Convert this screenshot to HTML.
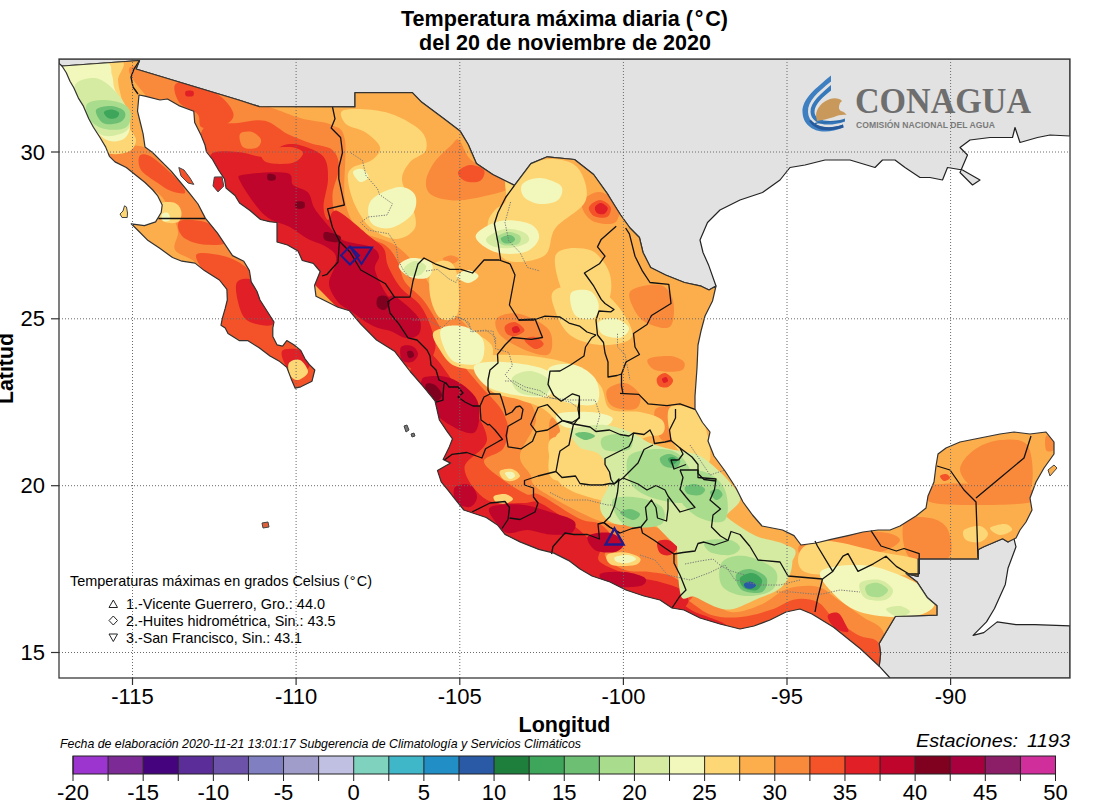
<!DOCTYPE html>
<html><head><meta charset="utf-8"><style>
html,body{margin:0;padding:0;background:#fff;width:1100px;height:800px;overflow:hidden;position:relative}
</style></head><body>
<svg width="1100" height="800" viewBox="0 0 1100 800" style="position:absolute;left:0;top:0">
<defs><clipPath id="plot"><rect x="59" y="59" width="1011" height="619"/></clipPath>
<clipPath id="mex"><path d="M62.0,66.0 L66.3,72.8 L70.0,81.2 L73.8,87.8 L78.4,98.1 L83.1,105.6 L88.8,118.8 L93.4,127.2 L100.0,137.5 L105.6,146.9 L109.4,156.3 L115.0,161.9 L126.3,167.5 L135.6,175.0 L145.0,182.5 L152.8,190.0 L157.5,195.6 L162.2,205.0 L161.2,212.5 L155.6,221.9 L144.4,225.6 L131.2,223.8 L138.8,231.2 L148.1,240.6 L159.4,248.1 L172.5,257.5 L181.9,261.2 L195.0,263.1 L204.4,270.6 L219.4,280.0 L226.9,289.4 L227.3,300.0 L225.2,308.4 L222.4,318.2 L221.0,325.2 L225.2,328.0 L228.0,333.6 L239.2,340.6 L247.6,340.6 L258.8,347.6 L270.0,356.0 L279.8,361.6 L286.8,367.2 L291.0,378.4 L295.2,388.2 L300.8,386.8 L312.0,381.2 L314.8,370.0 L309.2,364.4 L305.0,358.8 L300.8,350.4 L293.8,344.8 L286.8,340.6 L282.6,346.2 L277.0,344.8 L272.8,336.4 L272.8,328.0 L274.0,322.0 L267.0,311.0 L260.0,300.0 L256.9,291.2 L251.2,281.9 L249.4,270.6 L243.8,261.2 L232.5,255.6 L225.0,244.4 L217.5,233.1 L205.3,218.1 L198.0,204.0 L190.0,193.8 L180.6,182.5 L171.2,171.2 L161.9,161.9 L152.5,152.5 L145.0,146.9 L143.1,133.8 L140.3,122.5 L137.5,111.2 L139.0,95.0 L145.0,96.2 L160.0,100.0 L167.5,99.0 L178.8,105.6 L193.8,111.2 L194.7,122.5 L201.2,135.6 L205.0,145.0 L206.5,152.0 L212.5,159.5 L218.5,170.0 L224.5,179.0 L226.0,188.0 L235.0,195.5 L239.5,203.0 L250.0,210.5 L260.5,219.5 L269.5,221.7 L277.0,222.5 L277.0,242.0 L287.5,245.0 L298.0,251.0 L302.3,260.5 L313.3,263.3 L320.2,271.5 L314.6,285.3 L316.0,296.3 L327.0,301.8 L338.0,307.3 L349.5,310.8 L360.8,324.2 L376.5,340.0 L394.5,351.2 L410.2,371.5 L423.8,387.2 L435.0,400.8 L439.4,420.0 L446.9,431.2 L452.5,438.8 L448.8,448.1 L443.1,459.4 L450.6,463.1 L437.5,470.6 L441.2,481.9 L448.8,491.2 L456.2,500.6 L463.8,510.0 L475.0,513.8 L486.2,517.5 L497.5,525.0 L505.0,534.4 L520.0,541.9 L538.8,549.4 L553.8,553.1 L568.8,560.6 L580.0,569.0 L592.0,576.0 L610.0,582.0 L626.0,590.0 L644.0,596.0 L660.0,600.0 L672.0,608.0 L684.0,610.0 L700.0,618.0 L720.0,624.0 L740.0,629.0 L754.0,626.0 L770.0,620.0 L786.0,612.0 L800.0,609.0 L812.0,614.0 L833.6,627.3 L860.4,648.7 L879.2,666.2 L880.6,654.0 L879.2,643.4 L895.3,616.5 L936.9,615.2 L936.9,605.8 L927.5,597.8 L916.8,581.7 L906.0,573.6 L918.1,576.3 L918.1,558.9 L978.4,558.9 L978.4,549.5 L983.8,546.8 L1002.6,538.8 L1008.0,542.0 L1016.0,538.0 L1020.0,530.0 L1026.0,522.0 L1032.0,510.0 L1030.0,498.0 L1036.0,482.0 L1044.0,468.0 L1054.0,454.0 L1054.0,442.0 L1046.0,432.0 L1030.0,434.0 L1014.0,432.0 L1000.0,434.0 L980.0,438.0 L960.0,442.0 L946.0,448.0 L938.0,454.0 L936.0,466.0 L934.0,482.0 L928.0,496.0 L926.0,508.0 L916.0,516.0 L900.0,526.0 L890.0,530.0 L878.0,530.0 L863.0,532.0 L848.0,535.6 L831.0,539.4 L816.0,543.0 L801.0,545.0 L794.0,535.6 L782.5,530.0 L762.0,526.0 L752.5,515.0 L743.0,502.0 L736.0,488.0 L725.0,471.0 L714.0,456.0 L708.0,441.0 L710.0,432.0 L702.5,422.5 L695.0,409.0 L695.0,396.0 L697.0,368.0 L698.0,345.0 L701.0,331.0 L705.0,316.0 L712.5,301.0 L716.0,286.0 L709.0,290.0 L701.2,286.2 L684.4,282.5 L665.6,275.0 L650.6,267.5 L643.0,252.5 L639.4,237.5 L630.0,228.0 L620.6,215.0 L611.2,200.0 L607.3,193.6 L593.6,174.5 L574.5,159.5 L547.3,156.8 L530.9,163.6 L514.5,185.4 L492.7,174.5 L476.4,163.6 L468.2,144.5 L460.0,130.9 L443.6,118.6 L421.8,102.3 L412.3,92.7 L355.0,92.7 L355.0,106.9 L259.4,106.6 L238.8,100.0 L136.0,69.0 L139.5,60.5 Z"/></clipPath></defs>
<g clip-path="url(#plot)">
<path d="M59.0,59.0 L1070.0,59.0 L1070.0,136.0 L1050.0,135.0 L1037.5,137.5 L1020.0,142.5 L1015.0,127.5 L1012.5,137.5 L990.0,137.5 L970.0,140.0 L960.0,147.5 L967.5,155.0 L960.0,172.5 L972.5,185.0 L980.0,180.0 L962.5,170.0 L947.5,167.5 L942.5,180.0 L930.0,177.5 L920.0,177.5 L905.0,167.5 L895.0,160.0 L882.5,160.0 L875.0,167.5 L850.0,160.0 L825.0,160.0 L805.0,165.0 L790.0,167.5 L780.0,180.0 L762.5,192.5 L740.0,200.0 L720.0,210.0 L707.5,222.5 L700.0,240.0 L703.0,252.5 L708.8,265.6 L716.0,286.0 L709.0,290.0 L701.2,286.2 L684.4,282.5 L665.6,275.0 L650.6,267.5 L643.0,252.5 L639.4,237.5 L630.0,228.0 L620.6,215.0 L611.2,200.0 L607.3,193.6 L593.6,174.5 L574.5,159.5 L547.3,156.8 L530.9,163.6 L514.5,185.4 L492.7,174.5 L476.4,163.6 L468.2,144.5 L460.0,130.9 L443.6,118.6 L421.8,102.3 L412.3,92.7 L355.0,92.7 L355.0,106.9 L259.4,106.6 L238.8,100.0 L136.0,69.0 L139.5,60.5 L62.0,66.0 L59.0,63.5 Z" fill="#e2e2e2" stroke="#222" stroke-width="1.2" stroke-linejoin="round"/>
<path d="M890.0,678.0 L879.2,666.2 L880.6,654.0 L879.2,643.4 L895.3,616.5 L936.9,615.2 L936.9,605.8 L927.5,597.8 L916.8,581.7 L906.0,573.6 L918.1,576.3 L918.1,558.9 L978.4,558.9 L978.4,549.5 L983.8,546.8 L1002.6,538.8 L1008.0,542.0 L1013.3,536.1 L1016.0,546.8 L1008.0,568.3 L1005.3,584.4 L994.5,608.5 L986.5,621.9 L973.1,635.3 L983.8,632.6 L997.2,621.9 L1016.0,624.6 L1034.8,624.6 L1070.0,625.9 L1070.0,678.0 Z" fill="#e2e2e2" stroke="#222" stroke-width="1.2" stroke-linejoin="round"/>
<path d="M62.0,66.0 L66.3,72.8 L70.0,81.2 L73.8,87.8 L78.4,98.1 L83.1,105.6 L88.8,118.8 L93.4,127.2 L100.0,137.5 L105.6,146.9 L109.4,156.3 L115.0,161.9 L126.3,167.5 L135.6,175.0 L145.0,182.5 L152.8,190.0 L157.5,195.6 L162.2,205.0 L161.2,212.5 L155.6,221.9 L144.4,225.6 L131.2,223.8 L138.8,231.2 L148.1,240.6 L159.4,248.1 L172.5,257.5 L181.9,261.2 L195.0,263.1 L204.4,270.6 L219.4,280.0 L226.9,289.4 L227.3,300.0 L225.2,308.4 L222.4,318.2 L221.0,325.2 L225.2,328.0 L228.0,333.6 L239.2,340.6 L247.6,340.6 L258.8,347.6 L270.0,356.0 L279.8,361.6 L286.8,367.2 L291.0,378.4 L295.2,388.2 L300.8,386.8 L312.0,381.2 L314.8,370.0 L309.2,364.4 L305.0,358.8 L300.8,350.4 L293.8,344.8 L286.8,340.6 L282.6,346.2 L277.0,344.8 L272.8,336.4 L272.8,328.0 L274.0,322.0 L267.0,311.0 L260.0,300.0 L256.9,291.2 L251.2,281.9 L249.4,270.6 L243.8,261.2 L232.5,255.6 L225.0,244.4 L217.5,233.1 L205.3,218.1 L198.0,204.0 L190.0,193.8 L180.6,182.5 L171.2,171.2 L161.9,161.9 L152.5,152.5 L145.0,146.9 L143.1,133.8 L140.3,122.5 L137.5,111.2 L139.0,95.0 L145.0,96.2 L160.0,100.0 L167.5,99.0 L178.8,105.6 L193.8,111.2 L194.7,122.5 L201.2,135.6 L205.0,145.0 L206.5,152.0 L212.5,159.5 L218.5,170.0 L224.5,179.0 L226.0,188.0 L235.0,195.5 L239.5,203.0 L250.0,210.5 L260.5,219.5 L269.5,221.7 L277.0,222.5 L277.0,242.0 L287.5,245.0 L298.0,251.0 L302.3,260.5 L313.3,263.3 L320.2,271.5 L314.6,285.3 L316.0,296.3 L327.0,301.8 L338.0,307.3 L349.5,310.8 L360.8,324.2 L376.5,340.0 L394.5,351.2 L410.2,371.5 L423.8,387.2 L435.0,400.8 L439.4,420.0 L446.9,431.2 L452.5,438.8 L448.8,448.1 L443.1,459.4 L450.6,463.1 L437.5,470.6 L441.2,481.9 L448.8,491.2 L456.2,500.6 L463.8,510.0 L475.0,513.8 L486.2,517.5 L497.5,525.0 L505.0,534.4 L520.0,541.9 L538.8,549.4 L553.8,553.1 L568.8,560.6 L580.0,569.0 L592.0,576.0 L610.0,582.0 L626.0,590.0 L644.0,596.0 L660.0,600.0 L672.0,608.0 L684.0,610.0 L700.0,618.0 L720.0,624.0 L740.0,629.0 L754.0,626.0 L770.0,620.0 L786.0,612.0 L800.0,609.0 L812.0,614.0 L833.6,627.3 L860.4,648.7 L879.2,666.2 L880.6,654.0 L879.2,643.4 L895.3,616.5 L936.9,615.2 L936.9,605.8 L927.5,597.8 L916.8,581.7 L906.0,573.6 L918.1,576.3 L918.1,558.9 L978.4,558.9 L978.4,549.5 L983.8,546.8 L1002.6,538.8 L1008.0,542.0 L1016.0,538.0 L1020.0,530.0 L1026.0,522.0 L1032.0,510.0 L1030.0,498.0 L1036.0,482.0 L1044.0,468.0 L1054.0,454.0 L1054.0,442.0 L1046.0,432.0 L1030.0,434.0 L1014.0,432.0 L1000.0,434.0 L980.0,438.0 L960.0,442.0 L946.0,448.0 L938.0,454.0 L936.0,466.0 L934.0,482.0 L928.0,496.0 L926.0,508.0 L916.0,516.0 L900.0,526.0 L890.0,530.0 L878.0,530.0 L863.0,532.0 L848.0,535.6 L831.0,539.4 L816.0,543.0 L801.0,545.0 L794.0,535.6 L782.5,530.0 L762.0,526.0 L752.5,515.0 L743.0,502.0 L736.0,488.0 L725.0,471.0 L714.0,456.0 L708.0,441.0 L710.0,432.0 L702.5,422.5 L695.0,409.0 L695.0,396.0 L697.0,368.0 L698.0,345.0 L701.0,331.0 L705.0,316.0 L712.5,301.0 L716.0,286.0 L709.0,290.0 L701.2,286.2 L684.4,282.5 L665.6,275.0 L650.6,267.5 L643.0,252.5 L639.4,237.5 L630.0,228.0 L620.6,215.0 L611.2,200.0 L607.3,193.6 L593.6,174.5 L574.5,159.5 L547.3,156.8 L530.9,163.6 L514.5,185.4 L492.7,174.5 L476.4,163.6 L468.2,144.5 L460.0,130.9 L443.6,118.6 L421.8,102.3 L412.3,92.7 L355.0,92.7 L355.0,106.9 L259.4,106.6 L238.8,100.0 L136.0,69.0 L139.5,60.5 Z" fill="#fdae4c"/>
<g clip-path="url(#mex)">
<path d="M112.0,150.0C117.0,146.8 132.0,144.3 140.0,146.0C148.0,147.7 152.5,154.3 160.0,160.0C167.5,165.7 177.5,173.3 185.0,180.0C192.5,186.7 200.0,193.3 205.0,200.0C210.0,206.7 210.0,212.5 215.0,220.0C220.0,227.5 227.5,235.8 235.0,245.0C242.5,254.2 253.3,264.2 260.0,275.0C266.7,285.8 270.0,299.2 275.0,310.0C280.0,320.8 282.5,330.0 290.0,340.0C297.5,350.0 316.7,360.8 320.0,370.0C323.3,379.2 316.7,393.3 310.0,395.0C303.3,396.7 291.7,387.5 280.0,380.0C268.3,372.5 251.7,360.0 240.0,350.0C228.3,340.0 215.8,331.7 210.0,320.0C204.2,308.3 207.5,289.7 205.0,280.0C202.5,270.3 200.0,267.0 195.0,262.0C190.0,257.0 177.8,255.0 175.0,250.0C172.2,245.0 178.5,237.8 178.0,232.0C177.5,226.2 175.0,221.2 172.0,215.0C169.0,208.8 166.2,200.8 160.0,195.0C153.8,189.2 143.3,185.0 135.0,180.0C126.7,175.0 113.8,170.0 110.0,165.0C106.2,160.0 107.0,153.2 112.0,150.0Z" fill="#f98a3c"/>
<path d="M60.0,66.0C62.8,64.3 81.3,62.7 85.0,64.0C88.7,65.3 84.8,72.3 82.0,74.0C79.2,75.7 71.7,75.3 68.0,74.0C64.3,72.7 57.2,67.7 60.0,66.0Z" fill="#f98a3c"/>
<path d="M136.0,66.0C154.3,66.7 232.7,95.3 260.0,104.0C287.3,112.7 288.0,114.5 300.0,118.0C312.0,121.5 324.5,121.3 332.0,125.0C339.5,128.7 342.8,127.5 345.0,140.0C347.2,152.5 342.5,185.0 345.0,200.0C347.5,215.0 351.7,222.5 360.0,230.0C368.3,237.5 385.0,238.3 395.0,245.0C405.0,251.7 412.5,260.8 420.0,270.0C427.5,279.2 431.7,290.0 440.0,300.0C448.3,310.0 463.3,320.0 470.0,330.0C476.7,340.0 480.0,348.3 480.0,360.0C480.0,371.7 473.3,390.0 470.0,400.0C466.7,410.0 465.0,415.0 460.0,420.0C455.0,425.0 450.0,440.0 440.0,430.0C430.0,420.0 416.7,381.7 400.0,360.0C383.3,338.3 356.7,316.7 340.0,300.0C323.3,283.3 315.0,275.0 300.0,260.0C285.0,245.0 266.7,230.0 250.0,210.0C233.3,190.0 216.7,158.3 200.0,140.0C183.3,121.7 160.7,112.3 150.0,100.0C139.3,87.7 117.7,65.3 136.0,66.0Z" fill="#f98a3c"/>
<path d="M459.0,140.0C462.2,142.2 464.9,154.0 470.0,159.0C475.1,164.0 483.1,165.3 489.5,170.0C495.9,174.7 508.7,182.8 508.7,187.0C508.7,191.2 498.2,192.8 489.5,195.0C480.8,197.2 466.1,200.5 456.5,200.5C446.9,200.5 436.8,198.2 431.7,195.0C426.6,191.8 425.5,186.5 426.0,181.0C426.5,175.5 430.3,167.9 434.5,162.0C438.7,156.1 446.9,149.2 451.0,145.5C455.1,141.8 455.8,137.8 459.0,140.0Z" fill="#f98a3c"/>
<path d="M583.0,200.0C585.7,196.7 594.0,191.2 600.0,192.0C606.0,192.8 616.2,199.9 618.7,205.0C621.2,210.1 619.0,219.7 615.0,222.5C611.0,225.3 600.2,223.8 595.0,222.0C589.8,220.2 586.0,215.7 584.0,212.0C582.0,208.3 580.3,203.3 583.0,200.0Z" fill="#f98a3c"/>
<path d="M442.7,259.0C442.5,257.6 448.3,255.5 451.0,255.5C453.7,255.5 458.8,257.6 459.0,259.0C459.2,260.4 454.7,263.7 452.0,263.7C449.3,263.7 442.9,260.4 442.7,259.0Z" fill="#f98a3c"/>
<path d="M497.0,318.0C500.3,314.5 511.3,312.0 520.0,314.0C528.7,316.0 544.2,323.3 549.0,330.0C553.8,336.7 553.0,350.7 549.0,354.0C545.0,357.3 533.2,353.2 525.0,350.0C516.8,346.8 504.7,340.3 500.0,335.0C495.3,329.7 493.7,321.5 497.0,318.0Z" fill="#f98a3c"/>
<path d="M631.7,290.0C636.4,286.7 653.1,283.3 660.0,285.0C666.9,286.7 671.3,293.1 673.0,300.0C674.7,306.9 674.7,323.0 670.0,326.7C665.3,330.4 651.3,325.6 645.0,322.0C638.7,318.4 634.2,310.3 632.0,305.0C629.8,299.7 627.0,293.3 631.7,290.0Z" fill="#f98a3c"/>
<path d="M648.0,359.0C650.5,356.7 664.0,355.5 670.0,356.0C676.0,356.5 682.3,359.5 684.0,362.0C685.7,364.5 684.8,369.7 680.0,371.0C675.2,372.3 660.3,372.0 655.0,370.0C649.7,368.0 645.5,361.3 648.0,359.0Z" fill="#f98a3c"/>
<path d="M607.0,390.0C609.2,386.2 619.5,382.2 625.0,383.0C630.5,383.8 638.3,390.7 640.0,395.0C641.7,399.3 639.7,407.2 635.0,409.0C630.3,410.8 616.7,409.2 612.0,406.0C607.3,402.8 604.8,393.8 607.0,390.0Z" fill="#f98a3c"/>
<path d="M659.0,412.0C660.3,408.0 667.2,404.7 670.0,406.0C672.8,407.3 675.7,415.3 676.0,420.0C676.3,424.7 674.3,432.3 672.0,434.0C669.7,435.7 664.2,433.7 662.0,430.0C659.8,426.3 657.7,416.0 659.0,412.0Z" fill="#f98a3c"/>
<path d="M550.0,420.0C552.2,414.5 562.3,416.2 565.0,422.0C567.7,427.8 568.2,449.5 566.0,455.0C563.8,460.5 554.7,460.8 552.0,455.0C549.3,449.2 547.8,425.5 550.0,420.0Z" fill="#f98a3c"/>
<path d="M655.0,410.0C657.5,405.3 671.5,405.0 675.0,410.0C678.5,415.0 678.5,435.3 676.0,440.0C673.5,444.7 663.5,443.0 660.0,438.0C656.5,433.0 652.5,414.7 655.0,410.0Z" fill="#f98a3c"/>
<path d="M800.0,545.0C804.2,542.2 821.7,541.8 830.0,543.0C838.3,544.2 849.2,548.8 850.0,552.0C850.8,555.2 842.5,560.7 835.0,562.0C827.5,563.3 810.8,562.8 805.0,560.0C799.2,557.2 795.8,547.8 800.0,545.0Z" fill="#f98a3c"/>
<path d="M830.0,536.0C836.7,533.0 868.3,531.3 880.0,532.0C891.7,532.7 900.0,536.7 900.0,540.0C900.0,543.3 890.0,550.3 880.0,552.0C870.0,553.7 848.3,552.7 840.0,550.0C831.7,547.3 823.3,539.0 830.0,536.0Z" fill="#f98a3c"/>
<path d="M680.0,586.7C687.6,586.2 697.0,592.8 705.5,597.0C714.0,601.2 721.7,610.8 731.0,612.0C740.3,613.2 752.1,608.3 761.4,604.5C770.7,600.7 777.7,592.0 787.0,589.0C796.3,586.0 808.9,585.0 817.4,586.7C825.9,588.4 830.2,594.4 837.8,599.4C845.4,604.4 855.4,611.5 863.0,617.0C870.6,622.5 880.6,623.7 883.6,632.5C886.6,641.3 911.6,668.8 881.0,670.0C850.4,671.2 736.8,651.7 700.0,640.0C663.2,628.3 663.3,608.9 660.0,600.0C656.7,591.1 672.4,587.2 680.0,586.7Z" fill="#f98a3c"/>
<path d="M845.0,590.0C845.8,587.7 852.5,586.3 855.0,588.0C857.5,589.7 860.8,597.7 860.0,600.0C859.2,602.3 852.5,603.7 850.0,602.0C847.5,600.3 844.2,592.3 845.0,590.0Z" fill="#f98a3c"/>
<path d="M974.0,450.0C980.7,445.0 991.0,440.7 1000.0,440.0C1009.0,439.3 1023.0,437.7 1028.0,446.0C1033.0,454.3 1034.7,481.8 1030.0,490.0C1025.3,498.2 1009.0,495.0 1000.0,495.0C991.0,495.0 982.7,494.2 976.0,490.0C969.3,485.8 960.3,476.7 960.0,470.0C959.7,463.3 967.3,455.0 974.0,450.0Z" fill="#f98a3c"/>
<path d="M928.0,486.0C936.3,483.0 962.7,483.3 980.0,484.0C997.3,484.7 1023.3,487.0 1032.0,490.0C1040.7,493.0 1040.7,499.5 1032.0,502.0C1023.3,504.5 997.0,505.0 980.0,505.0C963.0,505.0 938.7,505.2 930.0,502.0C921.3,498.8 919.7,489.0 928.0,486.0Z" fill="#f98a3c"/>
<path d="M904.0,522.0C907.3,515.3 922.7,516.7 930.0,518.0C937.3,519.3 945.0,523.3 948.0,530.0C951.0,536.7 954.3,553.3 948.0,558.0C941.7,562.7 917.3,564.0 910.0,558.0C902.7,552.0 900.7,528.7 904.0,522.0Z" fill="#f98a3c"/>
<path d="M1046.0,436.0C1047.3,434.3 1052.7,437.7 1054.0,440.0C1055.3,442.3 1055.3,448.3 1054.0,450.0C1052.7,451.7 1047.3,452.3 1046.0,450.0C1044.7,447.7 1044.7,437.7 1046.0,436.0Z" fill="#f98a3c"/>
<path d="M420.0,316.0C429.3,300.5 442.9,346.5 455.7,357.0C468.5,367.5 486.3,373.5 497.0,379.0C507.7,384.5 513.5,383.3 520.0,390.0C526.5,396.7 536.0,408.2 536.0,419.0C536.0,429.8 521.0,445.8 520.0,455.0C519.0,464.2 526.7,468.2 530.0,474.0C533.3,479.8 528.3,482.2 540.0,490.0C551.7,497.8 583.3,515.4 600.0,521.0C616.7,526.6 629.0,521.8 640.0,523.6C651.0,525.4 658.2,527.8 666.0,531.7C673.8,535.6 681.3,542.3 687.0,547.0C692.7,551.7 696.2,551.2 700.0,560.0C703.8,568.8 726.7,586.7 710.0,600.0C693.3,613.3 643.3,646.7 600.0,640.0C556.7,633.3 483.3,591.7 450.0,560.0C416.7,528.3 405.0,490.7 400.0,450.0C395.0,409.3 410.7,331.5 420.0,316.0Z" fill="#f98a3c"/>
<path d="M139.5,156.0C141.0,153.7 145.3,153.7 150.0,156.0C154.7,158.3 162.6,165.6 167.5,170.0C172.4,174.4 176.8,178.7 179.7,182.5C182.6,186.3 186.4,191.6 185.0,193.0C183.6,194.4 175.7,192.8 171.0,191.0C166.3,189.2 162.0,186.0 157.0,182.5C152.0,179.0 143.9,174.4 141.0,170.0C138.1,165.6 138.0,158.3 139.5,156.0Z" fill="#f4532a"/>
<path d="M179.7,221.0C183.5,218.7 197.4,219.7 205.0,222.0C212.6,224.3 221.7,231.4 225.0,235.0C228.3,238.6 229.2,242.2 225.0,243.7C220.8,245.2 207.2,245.3 200.0,244.0C192.8,242.7 185.4,239.8 182.0,236.0C178.6,232.2 175.9,223.3 179.7,221.0Z" fill="#f4532a"/>
<path d="M197.0,254.0C201.2,251.2 220.3,254.5 230.0,258.0C239.7,261.5 247.5,268.0 255.0,275.0C262.5,282.0 270.8,290.0 275.0,300.0C279.2,310.0 275.8,327.5 280.0,335.0C284.2,342.5 293.7,339.5 300.0,345.0C306.3,350.5 316.0,360.2 318.0,368.0C320.0,375.8 316.7,388.0 312.0,392.0C307.3,396.0 296.2,396.5 290.0,392.0C283.8,387.5 281.7,372.8 275.0,365.0C268.3,357.2 258.3,350.8 250.0,345.0C241.7,339.2 230.8,337.5 225.0,330.0C219.2,322.5 218.3,309.2 215.0,300.0C211.7,290.8 208.0,282.7 205.0,275.0C202.0,267.3 192.8,256.8 197.0,254.0Z" fill="#f4532a"/>
<path d="M175.0,84.8C177.2,81.4 185.5,80.6 193.0,82.5C200.5,84.4 213.2,90.8 220.0,96.0C226.8,101.2 232.8,109.2 233.5,114.0C234.2,118.8 229.8,122.8 224.5,125.0C219.2,127.2 206.5,129.3 202.0,127.5C197.5,125.7 201.2,118.1 197.5,114.0C193.8,109.9 183.2,107.6 179.5,102.8C175.8,97.9 172.8,88.1 175.0,84.8Z" fill="#f4532a"/>
<path d="M204.0,127.5C209.5,121.3 227.8,124.1 238.0,123.0C248.2,121.9 256.8,118.9 265.0,120.8C273.2,122.6 280.0,130.3 287.5,134.0C295.0,137.7 302.5,140.3 310.0,143.0C317.5,145.7 327.7,145.8 332.5,150.0C337.3,154.2 339.0,160.5 339.0,168.0C339.0,175.5 332.7,186.3 332.5,195.0C332.3,203.7 333.4,213.3 338.0,220.0C342.6,226.7 352.2,230.8 360.0,235.0C367.8,239.2 378.7,240.5 385.0,245.0C391.3,249.5 394.7,255.8 398.0,262.0C401.3,268.2 400.7,275.5 405.0,282.0C409.3,288.5 417.8,292.8 424.0,301.0C430.2,309.2 437.7,322.8 442.0,331.0C446.3,339.2 452.0,341.8 450.0,350.0C448.0,358.2 438.3,378.3 430.0,380.0C421.7,381.7 415.0,373.3 400.0,360.0C385.0,346.7 356.7,316.7 340.0,300.0C323.3,283.3 316.7,274.2 300.0,260.0C283.3,245.8 255.8,231.7 240.0,215.0C224.2,198.3 211.0,174.6 205.0,160.0C199.0,145.4 198.5,133.7 204.0,127.5Z" fill="#f4532a"/>
<path d="M458.0,172.0C458.8,169.3 465.7,165.3 470.0,165.0C474.3,164.7 482.3,167.3 484.0,170.0C485.7,172.7 483.2,179.2 480.0,181.0C476.8,182.8 468.7,182.5 465.0,181.0C461.3,179.5 457.2,174.7 458.0,172.0Z" fill="#f4532a"/>
<path d="M589.0,207.0C590.0,204.3 596.4,200.0 600.0,200.0C603.6,200.0 609.3,204.2 610.5,207.0C611.7,209.8 609.8,215.5 607.0,217.0C604.2,218.5 597.0,217.7 594.0,216.0C591.0,214.3 588.0,209.7 589.0,207.0Z" fill="#f4532a"/>
<path d="M505.0,326.0C506.3,324.0 511.8,321.3 515.0,322.0C518.2,322.7 524.3,327.7 524.5,330.0C524.7,332.3 518.9,335.3 516.0,336.0C513.1,336.7 508.8,335.7 507.0,334.0C505.2,332.3 503.7,328.0 505.0,326.0Z" fill="#f4532a"/>
<path d="M524.5,340.0C524.5,338.0 531.8,336.3 535.0,337.0C538.2,337.7 543.7,342.0 543.7,344.0C543.7,346.0 538.2,349.7 535.0,349.0C531.8,348.3 524.5,342.0 524.5,340.0Z" fill="#f4532a"/>
<path d="M657.0,378.0C658.0,375.8 662.3,372.7 665.0,373.0C667.7,373.3 672.5,377.7 673.0,380.0C673.5,382.3 670.3,386.0 668.0,387.0C665.7,388.0 660.8,387.5 659.0,386.0C657.2,384.5 656.0,380.2 657.0,378.0Z" fill="#f4532a"/>
<path d="M680.0,597.0C688.4,597.8 700.3,611.4 710.5,614.7C720.7,618.0 730.8,617.9 741.0,617.0C751.2,616.1 762.7,612.5 771.6,609.6C780.5,606.7 786.9,600.7 794.5,599.4C802.1,598.1 811.0,599.1 817.4,602.0C823.8,604.9 825.9,611.5 832.7,617.0C839.5,622.5 850.4,630.7 858.0,635.0C865.6,639.3 875.1,636.9 878.5,642.7C881.9,648.5 908.2,669.6 878.5,670.0C848.8,670.4 736.4,655.0 700.0,645.0C663.6,635.0 663.3,618.0 660.0,610.0C656.7,602.0 671.6,596.2 680.0,597.0Z" fill="#f4532a"/>
<path d="M940.0,476.0C940.3,474.8 944.3,473.7 946.0,474.0C947.7,474.3 950.3,476.8 950.0,478.0C949.7,479.2 945.7,481.3 944.0,481.0C942.3,480.7 939.7,477.2 940.0,476.0Z" fill="#f4532a"/>
<path d="M420.0,335.0C434.5,325.5 472.5,378.5 487.0,393.0C501.5,407.5 504.2,412.8 507.0,422.0C509.8,431.2 507.4,441.5 503.6,448.0C499.8,454.5 484.6,456.1 484.0,461.0C483.4,465.9 493.0,472.0 500.0,477.5C507.0,483.0 519.3,491.1 526.0,494.0C532.7,496.9 531.2,490.9 540.0,495.0C548.8,499.1 569.0,513.7 579.0,518.5C589.0,523.3 594.3,520.4 600.0,524.0C605.7,527.6 612.2,534.7 613.0,540.0C613.8,545.3 603.0,551.0 605.0,556.0C607.0,561.0 617.5,567.3 625.0,570.0C632.5,572.7 641.7,570.7 650.0,572.0C658.3,573.3 668.3,573.3 675.0,578.0C681.7,582.7 702.5,589.7 690.0,600.0C677.5,610.3 640.0,646.7 600.0,640.0C560.0,633.3 483.3,591.7 450.0,560.0C416.7,528.3 405.0,487.5 400.0,450.0C395.0,412.5 405.5,344.5 420.0,335.0Z" fill="#f4532a"/>
<path d="M236.6,283.0C238.8,278.2 248.3,278.0 253.0,280.0C257.7,282.0 261.8,289.7 265.0,295.0C268.2,300.3 270.8,307.0 272.0,312.0C273.2,317.0 275.7,323.3 272.0,325.0C268.3,326.7 255.3,324.7 250.0,322.0C244.7,319.3 242.2,315.5 240.0,309.0C237.8,302.5 234.4,287.8 236.6,283.0Z" fill="#e01f26"/>
<path d="M282.0,351.0C284.0,348.0 295.3,348.2 300.0,350.0C304.7,351.8 309.2,358.7 310.0,362.0C310.8,365.3 308.7,369.0 305.0,370.0C301.3,371.0 291.8,371.2 288.0,368.0C284.2,364.8 280.0,354.0 282.0,351.0Z" fill="#e01f26"/>
<path d="M211.0,154.5C214.8,149.8 229.0,151.6 238.0,152.0C247.0,152.4 257.5,157.8 265.0,156.8C272.5,155.7 277.0,147.4 283.0,145.5C289.0,143.6 294.2,143.6 301.0,145.5C307.8,147.4 319.0,151.2 323.5,156.8C328.0,162.3 328.0,170.8 328.0,179.0C328.0,187.2 323.5,199.2 323.5,206.0C323.5,212.8 325.7,219.2 328.0,220.0C330.3,220.8 330.3,208.1 337.5,211.0C344.7,213.9 363.2,231.2 371.0,237.5C378.8,243.8 381.2,244.2 384.0,249.0C386.8,253.8 385.2,259.5 388.0,266.0C390.8,272.5 395.7,281.5 401.0,288.0C406.3,294.5 415.0,298.4 420.0,305.0C425.0,311.6 428.5,320.0 431.0,327.5C433.5,335.0 436.8,342.9 435.0,350.0C433.2,357.1 427.5,369.2 420.0,370.0C412.5,370.8 403.3,365.0 390.0,355.0C376.7,345.0 355.0,324.2 340.0,310.0C325.0,295.8 315.0,284.2 300.0,270.0C285.0,255.8 264.2,240.0 250.0,225.0C235.8,210.0 221.5,191.8 215.0,180.0C208.5,168.2 207.2,159.2 211.0,154.5Z" fill="#e01f26"/>
<path d="M186.0,91.0C187.2,90.2 191.8,90.2 193.0,91.0C194.2,91.8 194.2,95.2 193.0,96.0C191.8,96.8 187.2,96.8 186.0,96.0C184.8,95.2 184.8,91.8 186.0,91.0Z" fill="#e01f26"/>
<path d="M595.0,207.0C595.7,205.3 598.9,202.8 601.0,203.0C603.1,203.2 607.2,206.2 607.7,208.0C608.2,209.8 605.8,213.2 604.0,214.0C602.2,214.8 598.5,214.2 597.0,213.0C595.5,211.8 594.3,208.7 595.0,207.0Z" fill="#e01f26"/>
<path d="M512.0,328.0C512.5,326.8 515.7,325.5 517.0,326.0C518.3,326.5 520.5,329.8 520.0,331.0C519.5,332.2 515.3,333.5 514.0,333.0C512.7,332.5 511.5,329.2 512.0,328.0Z" fill="#e01f26"/>
<path d="M662.0,379.0C662.3,378.0 665.0,376.7 666.0,377.0C667.0,377.3 668.3,380.0 668.0,381.0C667.7,382.0 665.0,383.3 664.0,383.0C663.0,382.7 661.7,380.0 662.0,379.0Z" fill="#e01f26"/>
<path d="M657.5,542.0C658.8,539.8 664.7,539.2 668.0,540.0C671.3,540.8 677.2,544.5 677.5,547.0C677.8,549.5 672.9,554.0 670.0,555.0C667.1,556.0 662.1,555.2 660.0,553.0C657.9,550.8 656.2,544.2 657.5,542.0Z" fill="#e01f26"/>
<path d="M680.0,604.5C682.5,602.3 687.3,608.6 695.0,612.0C702.7,615.4 723.5,621.7 726.0,625.0C728.5,628.3 717.7,632.0 710.0,632.0C702.3,632.0 685.0,629.6 680.0,625.0C675.0,620.4 677.5,606.7 680.0,604.5Z" fill="#e01f26"/>
<path d="M827.6,616.0C828.1,613.5 835.0,611.7 838.0,613.0C841.0,614.3 843.7,620.8 845.4,624.0C847.1,627.2 849.7,631.3 848.0,632.0C846.3,632.7 838.4,630.7 835.0,628.0C831.6,625.3 827.1,618.5 827.6,616.0Z" fill="#e01f26"/>
<path d="M420.0,351.5C430.2,342.0 449.8,378.5 461.0,393.0C472.2,407.5 486.4,426.0 487.0,438.5C487.6,451.0 464.5,457.8 464.5,468.0C464.5,478.2 477.2,494.2 487.0,500.0C496.8,505.8 514.2,502.5 523.0,503.0C531.8,503.5 531.5,499.2 540.0,503.0C548.5,506.8 566.2,520.3 574.0,526.0C581.8,531.7 582.7,533.3 587.0,537.0C591.3,540.7 597.8,543.8 600.0,548.0C602.2,552.2 594.7,557.3 600.0,562.0C605.3,566.7 622.0,572.7 632.0,576.0C642.0,579.3 651.3,579.3 660.0,582.0C668.7,584.7 680.7,587.3 684.0,592.0C687.3,596.7 694.0,602.0 680.0,610.0C666.0,618.0 638.3,648.3 600.0,640.0C561.7,631.7 483.3,591.7 450.0,560.0C416.7,528.3 405.0,484.8 400.0,450.0C395.0,415.2 409.8,361.0 420.0,351.5Z" fill="#e01f26"/>
<path d="M240.5,182.0C237.2,175.2 237.2,176.0 245.0,174.5C252.8,173.0 279.0,171.2 287.0,173.0C295.0,174.8 289.5,181.8 293.0,185.0C296.5,188.2 304.5,188.8 308.0,192.5C311.5,196.2 311.5,203.0 314.0,207.5C316.5,212.0 319.5,215.2 323.0,219.5C326.5,223.8 331.3,229.4 335.0,233.0C338.7,236.6 339.0,238.7 345.0,241.0C351.0,243.3 365.3,244.5 371.0,247.0C376.7,249.5 378.3,252.2 379.0,256.0C379.7,259.8 373.7,263.5 375.0,270.0C376.3,276.5 383.8,290.7 387.0,295.0C390.2,299.3 390.5,294.1 394.0,296.0C397.5,297.9 403.7,302.4 408.0,306.5C412.3,310.6 418.2,315.8 420.0,320.5C421.8,325.2 420.8,331.6 418.5,334.5C416.2,337.4 410.7,338.6 406.0,338.0C401.3,337.4 395.2,332.7 390.5,331.0C385.8,329.3 382.1,329.5 378.0,328.0C373.9,326.5 370.3,324.7 366.0,322.0C361.7,319.3 356.7,315.3 352.0,312.0C347.3,308.7 341.8,306.7 338.0,302.0C334.2,297.3 329.5,290.0 329.0,284.0C328.5,278.0 334.0,271.0 335.0,266.0C336.0,261.0 337.0,257.5 335.0,254.0C333.0,250.5 327.5,247.5 323.0,245.0C318.5,242.5 313.5,242.0 308.0,239.0C302.5,236.0 297.2,231.0 290.0,227.0C282.8,223.0 272.8,222.5 264.5,215.0C256.2,207.5 243.8,188.8 240.5,182.0Z" fill="#bf052b"/>
<path d="M401.0,347.0C402.7,344.7 409.2,344.8 412.0,346.0C414.8,347.2 418.0,351.3 418.0,354.0C418.0,356.7 414.7,361.0 412.0,362.0C409.3,363.0 403.8,362.5 402.0,360.0C400.2,357.5 399.3,349.3 401.0,347.0Z" fill="#bf052b"/>
<path d="M422.0,379.0C423.3,375.3 435.0,376.2 440.0,378.0C445.0,379.8 450.3,386.0 452.0,390.0C453.7,394.0 453.3,400.3 450.0,402.0C446.7,403.7 436.7,403.8 432.0,400.0C427.3,396.2 420.7,382.7 422.0,379.0Z" fill="#bf052b"/>
<path d="M422.0,380.0C425.7,375.5 440.8,374.7 450.0,378.0C459.2,381.3 472.8,391.0 477.0,400.0C481.2,409.0 479.5,427.8 475.0,432.0C470.5,436.2 457.8,429.5 450.0,425.0C442.2,420.5 432.7,412.5 428.0,405.0C423.3,397.5 418.3,384.5 422.0,380.0Z" fill="#bf052b"/>
<path d="M455.0,487.0C457.3,484.2 466.3,483.3 470.0,485.0C473.7,486.7 477.0,493.3 477.0,497.0C477.0,500.7 473.5,506.2 470.0,507.0C466.5,507.8 458.5,505.3 456.0,502.0C453.5,498.7 452.7,489.8 455.0,487.0Z" fill="#bf052b"/>
<path d="M490.0,507.5C494.0,504.5 510.0,503.8 520.0,504.5C530.0,505.2 541.0,509.2 550.0,512.0C559.0,514.8 570.5,517.5 574.0,521.0C577.5,524.5 575.0,530.8 571.0,533.0C567.0,535.2 557.2,535.0 550.0,534.5C542.8,534.0 534.5,530.2 527.5,530.0C520.5,529.8 513.2,534.2 508.0,533.0C502.8,531.8 499.0,526.8 496.0,522.5C493.0,518.2 486.0,510.5 490.0,507.5Z" fill="#bf052b"/>
<path d="M588.0,536.0C590.5,533.2 604.0,531.8 610.0,533.0C616.0,534.2 623.2,539.8 624.0,543.0C624.8,546.2 619.8,550.8 615.0,552.0C610.2,553.2 599.5,552.7 595.0,550.0C590.5,547.3 585.5,538.8 588.0,536.0Z" fill="#bf052b"/>
<path d="M600.0,574.0C602.5,571.7 617.5,571.3 625.0,572.0C632.5,572.7 642.5,575.7 645.0,578.0C647.5,580.3 645.8,584.7 640.0,586.0C634.2,587.3 616.7,588.0 610.0,586.0C603.3,584.0 597.5,576.3 600.0,574.0Z" fill="#bf052b"/>
<path d="M378.0,297.0C379.5,295.3 384.0,295.0 386.0,296.0C388.0,297.0 390.3,300.7 390.0,303.0C389.7,305.3 386.2,309.5 384.0,310.0C381.8,310.5 378.0,308.2 377.0,306.0C376.0,303.8 376.5,298.7 378.0,297.0Z" fill="#80001f"/>
<path d="M407.0,352.0C407.5,350.8 410.8,350.3 412.0,351.0C413.2,351.7 414.5,354.8 414.0,356.0C413.5,357.2 410.2,358.7 409.0,358.0C407.8,357.3 406.5,353.2 407.0,352.0Z" fill="#80001f"/>
<path d="M268.0,174.0C269.2,173.2 273.8,174.0 275.0,175.0C276.2,176.0 276.2,179.2 275.0,180.0C273.8,180.8 269.2,181.0 268.0,180.0C266.8,179.0 266.8,174.8 268.0,174.0Z" fill="#80001f"/>
<path d="M296.0,202.0C297.3,201.0 302.7,201.0 304.0,202.0C305.3,203.0 305.3,207.0 304.0,208.0C302.7,209.0 297.3,209.0 296.0,208.0C294.7,207.0 294.7,203.0 296.0,202.0Z" fill="#80001f"/>
<path d="M325.0,232.0C327.5,231.3 337.8,234.3 340.0,236.0C342.2,237.7 340.5,241.3 338.0,242.0C335.5,242.7 327.2,241.7 325.0,240.0C322.8,238.3 322.5,232.7 325.0,232.0Z" fill="#80001f"/>
<path d="M426.0,384.0C427.3,382.7 432.3,383.2 435.0,385.0C437.7,386.8 441.8,392.3 442.0,395.0C442.2,397.7 438.5,401.3 436.0,401.0C433.5,400.7 428.7,395.8 427.0,393.0C425.3,390.2 424.7,385.3 426.0,384.0Z" fill="#80001f"/>
<path d="M58.0,62.0C66.3,57.0 110.0,57.0 120.0,60.0C130.0,63.0 117.7,73.3 118.0,80.0C118.3,86.7 120.3,92.5 122.0,100.0C123.7,107.5 125.7,118.3 128.0,125.0C130.3,131.7 136.0,135.5 136.0,140.0C136.0,144.5 133.2,150.0 128.0,152.0C122.8,154.0 111.3,155.7 105.0,152.0C98.7,148.3 95.8,140.3 90.0,130.0C84.2,119.7 75.3,101.3 70.0,90.0C64.7,78.7 49.7,67.0 58.0,62.0Z" fill="#fdd776"/>
<path d="M289.0,363.0C290.7,360.5 296.8,358.5 300.0,360.0C303.2,361.5 308.3,368.7 308.0,372.0C307.7,375.3 301.0,379.5 298.0,380.0C295.0,380.5 291.5,377.8 290.0,375.0C288.5,372.2 287.3,365.5 289.0,363.0Z" fill="#fdd776"/>
<path d="M160.5,203.5C163.3,201.7 171.5,201.6 175.0,203.0C178.5,204.4 180.9,208.8 181.4,212.0C181.9,215.2 180.7,220.3 178.0,222.0C175.3,223.7 168.3,223.3 165.0,222.0C161.7,220.7 158.8,217.1 158.0,214.0C157.2,210.9 157.7,205.3 160.5,203.5Z" fill="#fdd776"/>
<path d="M344.0,110.0C350.5,108.0 372.3,108.7 385.0,112.0C397.7,115.3 413.2,123.7 420.0,130.0C426.8,136.3 427.7,144.7 426.0,150.0C424.3,155.3 414.0,157.0 410.0,162.0C406.0,167.0 401.7,172.8 402.0,180.0C402.3,187.2 409.8,197.0 412.0,205.0C414.2,213.0 417.7,222.3 415.0,228.0C412.3,233.7 403.3,239.0 396.0,239.0C388.7,239.0 377.8,233.7 371.0,228.0C364.2,222.3 358.8,213.0 355.0,205.0C351.2,197.0 348.5,186.2 348.0,180.0C347.5,173.8 348.0,171.3 352.0,168.0C356.0,164.7 367.3,163.5 372.0,160.0C376.7,156.5 381.2,151.7 380.0,147.0C378.8,142.3 370.7,135.8 365.0,132.0C359.3,128.2 349.5,127.7 346.0,124.0C342.5,120.3 337.5,112.0 344.0,110.0Z" fill="#fdd776"/>
<path d="M522.5,167.5C529.8,164.2 540.8,159.0 550.0,159.0C559.2,159.0 571.5,160.6 577.5,167.5C583.5,174.4 589.4,190.4 585.7,200.5C582.0,210.6 562.4,218.8 555.5,228.0C548.6,237.2 552.3,250.0 544.5,255.5C536.7,261.0 517.8,263.6 508.7,261.0C499.6,258.4 493.4,246.5 490.0,240.0C486.6,233.5 487.2,227.0 488.0,222.0C488.8,217.0 492.0,213.6 495.0,210.0C498.0,206.4 504.2,205.8 506.0,200.5C507.8,195.2 503.2,184.0 506.0,178.5C508.8,173.0 515.2,170.8 522.5,167.5Z" fill="#fdd776"/>
<path d="M432.0,266.0C435.3,260.5 445.7,259.7 450.0,262.0C454.3,264.3 456.8,271.2 458.0,280.0C459.2,288.8 460.0,308.7 457.0,315.0C454.0,321.3 444.5,321.3 440.0,318.0C435.5,314.7 431.3,303.7 430.0,295.0C428.7,286.3 428.7,271.5 432.0,266.0Z" fill="#fdd776"/>
<path d="M555.5,255.5C558.8,246.3 580.9,246.8 590.0,250.0C599.1,253.2 607.5,265.8 610.0,275.0C612.5,284.2 611.7,300.0 605.0,305.0C598.3,310.0 578.2,313.2 570.0,305.0C561.8,296.8 552.2,264.7 555.5,255.5Z" fill="#fdd776"/>
<path d="M433.7,332.0C437.0,328.3 450.4,325.8 460.0,328.0C469.6,330.2 487.3,338.3 491.5,345.0C495.7,351.7 491.1,364.5 485.0,368.0C478.9,371.5 462.5,369.0 455.0,366.0C447.5,363.0 443.6,355.7 440.0,350.0C436.4,344.3 430.4,335.7 433.7,332.0Z" fill="#fdd776"/>
<path d="M475.0,360.0C480.0,354.2 503.5,354.2 520.0,355.0C536.5,355.8 560.7,360.0 574.0,365.0C587.3,370.0 594.0,377.7 600.0,385.0C606.0,392.3 603.3,404.5 610.0,409.0C616.7,413.5 631.3,410.2 640.0,412.0C648.7,413.8 658.3,416.3 662.0,420.0C665.7,423.7 665.7,430.7 662.0,434.0C658.3,437.3 648.7,434.0 640.0,440.0C631.3,446.0 624.2,463.3 610.0,470.0C595.8,476.7 565.0,483.3 555.0,480.0C545.0,476.7 549.2,458.3 550.0,450.0C550.8,441.7 560.8,436.7 560.0,430.0C559.2,423.3 551.7,415.0 545.0,410.0C538.3,405.0 529.2,403.3 520.0,400.0C510.8,396.7 497.5,396.7 490.0,390.0C482.5,383.3 470.0,365.8 475.0,360.0Z" fill="#fdd776"/>
<path d="M554.7,290.0C560.5,285.8 580.4,283.3 590.0,285.0C599.6,286.7 605.8,293.3 612.5,300.0C619.2,306.7 627.2,318.3 630.0,325.0C632.8,331.7 634.0,336.7 629.0,340.0C624.0,343.3 609.8,345.8 600.0,345.0C590.2,344.2 577.5,340.8 570.0,335.0C562.5,329.2 557.5,317.5 555.0,310.0C552.5,302.5 548.9,294.2 554.7,290.0Z" fill="#fdd776"/>
<path d="M557.5,434.0C564.6,426.3 586.2,431.3 600.0,434.0C613.8,436.7 633.3,439.0 640.0,450.0C646.7,461.0 646.7,491.7 640.0,500.0C633.3,508.3 613.8,503.3 600.0,500.0C586.2,496.7 564.6,491.0 557.5,480.0C550.4,469.0 550.4,441.7 557.5,434.0Z" fill="#fdd776"/>
<path d="M550.0,440.0C554.2,434.7 569.6,436.3 580.0,438.0C590.4,439.7 607.5,442.6 612.5,450.0C617.5,457.4 615.4,477.2 610.0,482.5C604.6,487.8 589.2,484.1 580.0,482.0C570.8,479.9 560.0,477.0 555.0,470.0C550.0,463.0 545.8,445.3 550.0,440.0Z" fill="#fdd776"/>
<path d="M670.0,407.5C674.7,403.3 693.3,406.2 700.0,415.0C706.7,423.8 711.7,452.5 710.0,460.0C708.3,467.5 696.3,463.3 690.0,460.0C683.7,456.7 675.3,448.8 672.0,440.0C668.7,431.2 665.3,411.7 670.0,407.5Z" fill="#fdd776"/>
<path d="M805.0,546.0C810.3,542.8 817.5,540.0 830.0,541.0C842.5,542.0 865.2,548.8 880.0,552.0C894.8,555.2 912.5,556.3 919.0,560.0C925.5,563.7 927.2,571.5 919.0,574.0C910.8,576.5 884.8,574.8 870.0,575.0C855.2,575.2 840.8,575.5 830.0,575.0C819.2,574.5 810.3,574.5 805.0,572.0C799.7,569.5 798.0,564.3 798.0,560.0C798.0,555.7 799.7,549.2 805.0,546.0Z" fill="#fdd776"/>
<path d="M964.0,530.0C966.3,527.7 976.0,525.3 980.0,526.0C984.0,526.7 988.0,531.3 988.0,534.0C988.0,536.7 983.7,541.0 980.0,542.0C976.3,543.0 968.7,542.0 966.0,540.0C963.3,538.0 961.7,532.3 964.0,530.0Z" fill="#fdd776"/>
<path d="M990.0,528.0C990.8,526.2 1001.3,523.7 1005.0,524.0C1008.7,524.3 1012.8,528.2 1012.0,530.0C1011.2,531.8 1003.7,535.3 1000.0,535.0C996.3,534.7 989.2,529.8 990.0,528.0Z" fill="#fdd776"/>
<path d="M607.0,555.0C609.2,552.9 619.5,552.0 625.0,552.5C630.5,553.0 638.3,555.9 640.0,558.0C641.7,560.1 639.7,563.8 635.0,565.0C630.3,566.2 616.7,566.7 612.0,565.0C607.3,563.3 604.8,557.1 607.0,555.0Z" fill="#fdd776"/>
<path d="M500.0,471.0C501.5,469.3 508.7,468.2 512.0,469.0C515.3,469.8 520.0,474.0 520.0,476.0C520.0,478.0 514.8,480.5 512.0,481.0C509.2,481.5 505.0,480.7 503.0,479.0C501.0,477.3 498.5,472.7 500.0,471.0Z" fill="#fdd776"/>
<path d="M494.0,496.0C495.5,494.7 501.8,493.5 505.0,494.0C508.2,494.5 513.0,497.4 513.0,499.0C513.0,500.6 507.8,503.1 505.0,503.6C502.2,504.1 497.8,503.3 496.0,502.0C494.2,500.7 492.5,497.3 494.0,496.0Z" fill="#fdd776"/>
<path d="M60.0,66.0C65.0,59.7 96.3,60.5 105.0,62.0C113.7,63.5 110.3,70.3 112.0,75.0C113.7,79.7 112.8,85.0 115.0,90.0C117.2,95.0 122.5,99.2 125.0,105.0C127.5,110.8 130.0,119.5 130.0,125.0C130.0,130.5 128.3,135.3 125.0,138.0C121.7,140.7 115.0,142.3 110.0,141.0C105.0,139.7 100.8,136.8 95.0,130.0C89.2,123.2 80.8,110.7 75.0,100.0C69.2,89.3 55.0,72.3 60.0,66.0Z" fill="#f2f8bb"/>
<path d="M162.0,214.0C162.8,212.7 166.7,212.0 168.0,213.0C169.3,214.0 170.8,218.7 170.0,220.0C169.2,221.3 164.3,222.0 163.0,221.0C161.7,220.0 161.2,215.3 162.0,214.0Z" fill="#f2f8bb"/>
<path d="M371.0,200.5C375.6,194.6 391.4,187.9 398.7,187.0C406.0,186.1 412.7,190.5 415.0,195.0C417.3,199.5 416.6,208.5 412.5,214.0C408.4,219.5 397.4,226.6 390.5,228.0C383.6,229.4 374.2,227.1 371.0,222.5C367.8,217.9 366.4,206.4 371.0,200.5Z" fill="#f2f8bb"/>
<path d="M353.0,172.0C353.3,169.8 359.4,168.2 362.0,169.0C364.6,169.8 368.8,174.8 368.5,177.0C368.2,179.2 362.6,182.8 360.0,182.0C357.4,181.2 352.7,174.2 353.0,172.0Z" fill="#f2f8bb"/>
<path d="M522.5,184.0C525.2,180.8 533.6,177.7 540.0,178.0C546.4,178.3 558.0,182.3 561.0,186.0C564.0,189.7 561.5,197.0 558.0,200.0C554.5,203.0 545.7,204.5 540.0,204.0C534.3,203.5 526.9,200.3 524.0,197.0C521.1,193.7 519.8,187.2 522.5,184.0Z" fill="#f2f8bb"/>
<path d="M475.7,236.0C476.5,230.8 490.9,223.0 500.0,221.0C509.1,219.0 523.5,221.2 530.0,224.0C536.5,226.8 539.8,233.3 539.0,238.0C538.2,242.7 532.3,249.7 525.0,252.0C517.7,254.3 503.2,254.7 495.0,252.0C486.8,249.3 474.9,241.2 475.7,236.0Z" fill="#f2f8bb"/>
<path d="M398.7,266.0C399.0,262.8 406.5,258.5 412.0,258.0C417.5,257.5 429.0,259.8 431.7,263.0C434.4,266.2 431.6,275.2 428.0,277.5C424.4,279.8 414.9,278.9 410.0,277.0C405.1,275.1 398.4,269.2 398.7,266.0Z" fill="#f2f8bb"/>
<path d="M456.5,276.0C456.5,273.8 464.3,270.0 468.0,270.0C471.7,270.0 478.5,273.8 478.5,276.0C478.5,278.2 471.7,283.0 468.0,283.0C464.3,283.0 456.5,278.2 456.5,276.0Z" fill="#f2f8bb"/>
<path d="M442.0,328.0C445.7,324.9 458.2,324.7 465.0,326.7C471.8,328.7 480.5,334.0 483.0,340.0C485.5,346.0 484.7,358.8 480.0,362.5C475.3,366.2 461.2,364.9 455.0,362.0C448.8,359.1 445.2,350.7 443.0,345.0C440.8,339.3 438.3,331.1 442.0,328.0Z" fill="#f2f8bb"/>
<path d="M475.0,365.0C479.2,361.2 497.7,361.3 510.0,362.5C522.3,363.7 542.5,366.5 549.0,372.0C555.5,377.5 554.7,391.7 549.0,395.5C543.3,399.3 525.7,396.8 515.0,395.0C504.3,393.2 491.7,390.0 485.0,385.0C478.3,380.0 470.8,368.8 475.0,365.0Z" fill="#f2f8bb"/>
<path d="M549.0,368.0C553.2,363.8 567.2,363.0 575.0,365.0C582.8,367.0 592.5,373.6 596.0,380.0C599.5,386.4 601.2,400.0 596.0,403.7C590.8,407.4 572.7,404.3 565.0,402.0C557.3,399.7 552.7,395.7 550.0,390.0C547.3,384.3 544.8,372.2 549.0,368.0Z" fill="#f2f8bb"/>
<path d="M571.0,293.0C573.5,289.0 585.4,289.0 590.0,291.0C594.6,293.0 598.2,300.4 598.7,305.0C599.2,309.6 597.0,316.8 593.0,318.5C589.0,320.2 578.7,319.2 575.0,315.0C571.3,310.8 568.5,297.0 571.0,293.0Z" fill="#f2f8bb"/>
<path d="M598.7,322.0C600.9,319.4 610.0,317.5 615.0,318.5C620.0,319.5 628.2,324.8 629.0,328.0C629.8,331.2 624.5,336.7 620.0,337.7C615.5,338.7 605.5,336.6 602.0,334.0C598.5,331.4 596.5,324.6 598.7,322.0Z" fill="#f2f8bb"/>
<path d="M557.5,414.0C561.7,411.5 580.8,411.3 590.0,412.0C599.2,412.7 610.8,415.2 612.5,418.0C614.2,420.8 607.9,427.0 600.0,428.5C592.1,430.0 572.1,429.4 565.0,427.0C557.9,424.6 553.3,416.5 557.5,414.0Z" fill="#f2f8bb"/>
<path d="M822.5,570.0C829.2,566.0 853.8,563.5 870.0,566.0C886.2,568.5 909.2,578.5 920.0,585.0C930.8,591.5 936.2,599.7 934.5,605.0C932.8,610.3 922.4,615.8 910.0,617.0C897.6,618.2 873.3,616.5 860.0,612.0C846.7,607.5 836.2,597.0 830.0,590.0C823.8,583.0 815.8,574.0 822.5,570.0Z" fill="#f2f8bb"/>
<path d="M615.0,557.0C616.8,555.8 624.5,554.7 628.0,555.0C631.5,555.3 636.0,557.7 636.0,559.0C636.0,560.3 631.2,562.5 628.0,563.0C624.8,563.5 619.2,563.0 617.0,562.0C614.8,561.0 613.2,558.2 615.0,557.0Z" fill="#f2f8bb"/>
<path d="M505.0,473.0C505.3,471.8 510.3,471.5 512.0,472.0C513.7,472.5 515.3,474.8 515.0,476.0C514.7,477.2 511.7,479.5 510.0,479.0C508.3,478.5 504.7,474.2 505.0,473.0Z" fill="#f2f8bb"/>
<path d="M75.0,85.0C77.2,79.7 88.8,77.5 95.0,78.0C101.2,78.5 107.0,83.5 112.0,88.0C117.0,92.5 122.0,98.8 125.0,105.0C128.0,111.2 130.8,120.2 130.0,125.0C129.2,129.8 125.0,132.5 120.0,134.0C115.0,135.5 106.3,138.0 100.0,134.0C93.7,130.0 86.2,118.2 82.0,110.0C77.8,101.8 72.8,90.3 75.0,85.0Z" fill="#d4eba1"/>
<path d="M486.7,238.0C488.9,235.2 498.6,229.8 505.0,229.0C511.4,228.2 521.2,230.8 525.0,233.0C528.8,235.2 530.5,239.5 528.0,242.0C525.5,244.5 516.0,247.3 510.0,248.0C504.0,248.7 495.9,247.7 492.0,246.0C488.1,244.3 484.5,240.8 486.7,238.0Z" fill="#d4eba1"/>
<path d="M404.0,268.0C405.2,265.7 411.3,261.3 415.0,261.0C418.7,260.7 425.2,263.7 426.0,266.0C426.8,268.3 423.0,273.5 420.0,275.0C417.0,276.5 410.7,276.2 408.0,275.0C405.3,273.8 402.8,270.3 404.0,268.0Z" fill="#d4eba1"/>
<path d="M512.0,378.0C513.7,374.3 523.8,370.7 530.0,371.0C536.2,371.3 546.5,376.0 549.0,380.0C551.5,384.0 549.8,392.8 545.0,395.0C540.2,397.2 525.5,395.8 520.0,393.0C514.5,390.2 510.3,381.7 512.0,378.0Z" fill="#d4eba1"/>
<path d="M575.0,428.0C580.8,426.8 595.5,424.2 605.0,425.0C614.5,425.8 624.5,430.0 632.0,433.0C639.5,436.0 643.7,440.3 650.0,443.0C656.3,445.7 662.5,447.2 670.0,449.0C677.5,450.8 688.3,451.7 695.0,454.0C701.7,456.3 704.2,458.2 710.0,463.0C715.8,467.8 725.0,476.3 730.0,482.5C735.0,488.7 740.8,494.2 740.0,500.0C739.2,505.8 726.7,512.5 725.0,517.5C723.3,522.5 723.3,526.2 730.0,530.0C736.7,533.8 754.2,536.7 765.0,540.0C775.8,543.3 791.7,545.0 795.0,550.0C798.3,555.0 788.3,565.8 785.0,570.0C781.7,574.2 780.8,570.8 775.0,575.0C769.2,579.2 761.7,592.5 750.0,595.0C738.3,597.5 715.0,595.8 705.0,590.0C695.0,584.2 695.8,568.3 690.0,560.0C684.2,551.7 677.5,547.1 670.0,540.0C662.5,532.9 652.5,520.0 645.0,517.5C637.5,515.0 631.2,524.6 625.0,525.0C618.8,525.4 611.7,523.3 607.5,520.0C603.3,516.7 599.6,511.7 600.0,505.0C600.4,498.3 610.0,488.3 610.0,480.0C610.0,471.7 605.0,460.4 600.0,455.0C595.0,449.6 585.0,451.2 580.0,447.5C575.0,443.8 570.8,435.8 570.0,432.5C569.2,429.2 569.2,429.2 575.0,428.0Z" fill="#d4eba1"/>
<path d="M680.0,515.5C685.1,501.0 702.0,504.2 710.5,505.0C719.0,505.8 723.4,515.3 731.0,520.5C738.6,525.7 746.7,531.8 756.0,536.0C765.3,540.2 781.0,541.0 787.0,546.0C793.0,551.0 792.8,559.2 792.0,566.0C791.2,572.8 788.0,581.1 782.0,586.7C776.0,592.3 765.3,595.6 756.0,599.4C746.7,603.2 736.2,610.0 726.0,609.6C715.8,609.2 702.7,599.9 695.0,597.0C687.3,594.1 682.5,605.6 680.0,592.0C677.5,578.4 674.9,530.0 680.0,515.5Z" fill="#d4eba1"/>
<path d="M860.0,583.0C862.5,580.0 874.5,578.8 880.0,580.0C885.5,581.2 892.2,586.7 893.0,590.0C893.8,593.3 889.7,598.7 885.0,600.0C880.3,601.3 869.2,600.8 865.0,598.0C860.8,595.2 857.5,586.0 860.0,583.0Z" fill="#d4eba1"/>
<path d="M886.0,609.0C886.3,607.2 896.0,605.5 900.0,606.0C904.0,606.5 910.3,610.2 910.0,612.0C909.7,613.8 902.0,617.5 898.0,617.0C894.0,616.5 885.7,610.8 886.0,609.0Z" fill="#d4eba1"/>
<path d="M87.0,104.0C89.5,100.7 98.7,99.8 105.0,100.0C111.3,100.2 120.7,102.3 125.0,105.0C129.3,107.7 131.0,112.2 131.0,116.0C131.0,119.8 129.3,125.8 125.0,128.0C120.7,130.2 110.8,130.3 105.0,129.0C99.2,127.7 93.0,124.2 90.0,120.0C87.0,115.8 84.5,107.3 87.0,104.0Z" fill="#a9dc8d"/>
<path d="M496.0,238.0C496.8,235.8 504.0,232.3 508.0,232.0C512.0,231.7 518.3,234.0 520.0,236.0C521.7,238.0 520.8,242.5 518.0,244.0C515.2,245.5 506.7,246.0 503.0,245.0C499.3,244.0 495.2,240.2 496.0,238.0Z" fill="#a9dc8d"/>
<path d="M602.0,438.0C604.5,435.3 615.0,433.7 620.0,434.0C625.0,434.3 630.7,437.3 632.0,440.0C633.3,442.7 632.5,448.3 628.0,450.0C623.5,451.7 609.3,452.0 605.0,450.0C600.7,448.0 599.5,440.7 602.0,438.0Z" fill="#a9dc8d"/>
<path d="M630.0,455.0C636.3,449.2 660.0,447.5 670.0,450.0C680.0,452.5 686.7,461.7 690.0,470.0C693.3,478.3 695.0,495.0 690.0,500.0C685.0,505.0 669.7,502.5 660.0,500.0C650.3,497.5 637.0,492.5 632.0,485.0C627.0,477.5 623.7,460.8 630.0,455.0Z" fill="#a9dc8d"/>
<path d="M675.0,475.0C679.2,470.3 696.7,469.5 705.0,472.0C713.3,474.5 721.7,482.0 725.0,490.0C728.3,498.0 729.2,515.3 725.0,520.0C720.8,524.7 707.5,521.3 700.0,518.0C692.5,514.7 684.2,507.2 680.0,500.0C675.8,492.8 670.8,479.7 675.0,475.0Z" fill="#a9dc8d"/>
<path d="M612.5,500.0C615.0,495.5 631.7,496.7 640.0,498.0C648.3,499.3 659.2,503.5 662.5,508.0C665.8,512.5 666.2,522.2 660.0,525.0C653.8,527.8 632.9,529.2 625.0,525.0C617.1,520.8 610.0,504.5 612.5,500.0Z" fill="#a9dc8d"/>
<path d="M705.0,541.0C708.3,539.0 724.2,538.8 730.0,540.0C735.8,541.2 740.0,545.5 740.0,548.0C740.0,550.5 735.0,554.3 730.0,555.0C725.0,555.7 714.2,554.3 710.0,552.0C705.8,549.7 701.7,543.0 705.0,541.0Z" fill="#a9dc8d"/>
<path d="M722.0,562.0C725.8,557.0 736.2,554.7 745.0,556.0C753.8,557.3 770.5,564.3 775.0,570.0C779.5,575.7 777.0,585.7 772.0,590.0C767.0,594.3 753.3,596.7 745.0,596.0C736.7,595.3 725.8,591.7 722.0,586.0C718.2,580.3 718.2,567.0 722.0,562.0Z" fill="#a9dc8d"/>
<path d="M866.0,586.0C867.7,584.0 874.3,582.3 878.0,583.0C881.7,583.7 887.7,587.7 888.0,590.0C888.3,592.3 883.3,596.2 880.0,597.0C876.7,597.8 870.3,596.8 868.0,595.0C865.7,593.2 864.3,588.0 866.0,586.0Z" fill="#a9dc8d"/>
<path d="M96.0,110.0C97.2,107.2 105.5,106.0 110.0,106.0C114.5,106.0 120.5,108.2 123.0,110.0C125.5,111.8 125.8,114.8 125.0,117.0C124.2,119.2 121.7,122.0 118.0,123.0C114.3,124.0 106.7,125.2 103.0,123.0C99.3,120.8 94.8,112.8 96.0,110.0Z" fill="#6dbf73"/>
<path d="M501.0,238.0C502.0,236.7 507.7,234.8 510.0,235.0C512.3,235.2 514.8,237.7 515.0,239.0C515.2,240.3 512.8,242.3 511.0,243.0C509.2,243.7 505.7,243.8 504.0,243.0C502.3,242.2 500.0,239.3 501.0,238.0Z" fill="#6dbf73"/>
<path d="M660.0,458.0C661.0,456.0 666.7,453.7 670.0,454.0C673.3,454.3 679.0,457.8 680.0,460.0C681.0,462.2 678.7,466.5 676.0,467.5C673.3,468.5 666.7,467.6 664.0,466.0C661.3,464.4 659.0,460.0 660.0,458.0Z" fill="#6dbf73"/>
<path d="M685.0,487.0C686.2,485.3 691.7,483.7 695.0,484.0C698.3,484.3 704.2,487.2 705.0,489.0C705.8,490.8 702.8,494.2 700.0,495.0C697.2,495.8 690.5,495.3 688.0,494.0C685.5,492.7 683.8,488.7 685.0,487.0Z" fill="#6dbf73"/>
<path d="M710.0,492.0C710.3,490.2 715.9,488.5 718.0,489.0C720.1,489.5 722.8,493.2 722.5,495.0C722.2,496.8 718.1,500.5 716.0,500.0C713.9,499.5 709.7,493.8 710.0,492.0Z" fill="#6dbf73"/>
<path d="M620.0,513.0C619.5,511.2 626.7,508.8 630.0,509.0C633.3,509.2 639.5,512.2 640.0,514.0C640.5,515.8 636.3,520.2 633.0,520.0C629.7,519.8 620.5,514.8 620.0,513.0Z" fill="#6dbf73"/>
<path d="M575.0,434.0C575.0,432.7 581.7,431.7 585.0,432.0C588.3,432.3 595.0,434.7 595.0,436.0C595.0,437.3 588.3,440.3 585.0,440.0C581.7,439.7 575.0,435.3 575.0,434.0Z" fill="#6dbf73"/>
<path d="M736.0,575.0C737.3,571.5 744.9,568.5 750.0,569.0C755.1,569.5 764.5,574.2 766.5,578.0C768.5,581.8 766.1,590.0 762.0,592.0C757.9,594.0 746.3,592.8 742.0,590.0C737.7,587.2 734.7,578.5 736.0,575.0Z" fill="#6dbf73"/>
<path d="M104.0,112.0C104.7,110.6 109.5,109.4 112.0,109.6C114.5,109.8 118.3,111.6 119.0,113.0C119.7,114.4 117.8,117.2 116.0,118.0C114.2,118.8 110.0,119.0 108.0,118.0C106.0,117.0 103.3,113.4 104.0,112.0Z" fill="#3ea65a"/>
<path d="M668.0,459.0C668.2,457.7 671.5,456.7 673.0,457.0C674.5,457.3 677.2,459.7 677.0,461.0C676.8,462.3 673.5,465.3 672.0,465.0C670.5,464.7 667.8,460.3 668.0,459.0Z" fill="#3ea65a"/>
<path d="M740.0,578.0C741.3,575.5 748.3,572.7 752.0,573.0C755.7,573.3 761.2,577.2 762.0,580.0C762.8,582.8 760.0,588.7 757.0,590.0C754.0,591.3 746.8,590.0 744.0,588.0C741.2,586.0 738.7,580.5 740.0,578.0Z" fill="#3ea65a"/>
<path d="M744.0,584.0C744.7,582.9 748.0,581.4 750.0,581.6C752.0,581.8 755.7,583.9 756.0,585.0C756.3,586.1 753.7,588.0 752.0,588.5C750.3,589.0 747.3,588.8 746.0,588.0C744.7,587.2 743.3,585.1 744.0,584.0Z" fill="#2a5aa6"/>
<path d="M240.0,134.0C241.5,131.5 248.5,131.0 252.0,132.0C255.5,133.0 260.3,137.3 261.0,140.0C261.7,142.7 259.0,146.8 256.0,148.0C253.0,149.2 245.7,149.3 243.0,147.0C240.3,144.7 238.5,136.5 240.0,134.0Z" fill="#f98a3c"/>
<path d="M263.0,150.0C267.0,147.5 283.3,146.5 290.0,147.0C296.7,147.5 302.7,150.3 303.0,153.0C303.3,155.7 298.2,161.5 292.0,163.0C285.8,164.5 270.8,164.2 266.0,162.0C261.2,159.8 259.0,152.5 263.0,150.0Z" fill="#f4532a"/>
</g>
<g clip-path="url(#mex)">
<path d="M351.0,153.0 L362.5,160.6 L366.0,175.6 L377.5,188.8 L379.4,194.4 L392.5,203.8 L387.0,215.0 L368.0,217.0 L360.6,222.5 L368.0,230.0 L388.8,233.8 L396.0,245.0 L398.0,260.0 L403.8,271.0 L411.0,279.0" fill="none" stroke="#7a7a7a" stroke-width="1" stroke-dasharray="1.3,1.3"/>
<path d="M510.6,202.0 L505.0,222.5 L508.8,241.0 L520.0,252.5 L527.5,267.5 L540.0,271.0" fill="none" stroke="#7a7a7a" stroke-width="1" stroke-dasharray="1.3,1.3"/>
<path d="M426.0,271.0 L437.5,269.4 L448.8,278.8 L456.0,282.5 L461.0,271.0" fill="none" stroke="#7a7a7a" stroke-width="1" stroke-dasharray="1.3,1.3"/>
<path d="M412.5,320.0 L427.5,320.0 L442.5,327.5 L453.8,316.0 L465.0,320.0 L472.5,331.0 L493.0,331.0 L495.0,342.5" fill="none" stroke="#7a7a7a" stroke-width="1" stroke-dasharray="1.3,1.3"/>
<path d="M458.0,317.0 L469.0,322.5 L471.0,332.0 L486.0,330.0 L495.6,337.5 L495.6,348.8 L508.8,352.5 L512.5,365.6 L505.0,375.0 L512.5,382.5 L523.8,390.0 L535.0,393.8 L546.2,397.5 L570.0,400.0 L595.0,400.0 L600.0,415.0 L595.0,432.5" fill="none" stroke="#7a7a7a" stroke-width="1" stroke-dasharray="1.3,1.3"/>
<path d="M617.5,333.8 L617.5,347.0 L625.0,354.4 L630.0,380.0" fill="none" stroke="#7a7a7a" stroke-width="1" stroke-dasharray="1.3,1.3"/>
<path d="M550.0,492.5 L565.0,500.0 L587.5,500.0 L607.5,505.0 L612.5,505.0 L625.0,515.0" fill="none" stroke="#7a7a7a" stroke-width="1" stroke-dasharray="1.3,1.3"/>
<path d="M640.0,555.0 L655.0,560.0 L667.5,575.0 L690.0,580.0 L710.0,572.5 L725.0,565.0 L735.0,580.0 L760.0,585.0 L780.0,585.0 L800.0,580.0" fill="none" stroke="#7a7a7a" stroke-width="1" stroke-dasharray="1.3,1.3"/>
<path d="M690.0,445.0 L700.0,460.0 L710.0,475.0 L725.0,470.0" fill="none" stroke="#7a7a7a" stroke-width="1" stroke-dasharray="1.3,1.3"/>
<path d="M685.0,564.0 L700.0,561.0 L713.0,559.0 L721.0,566.0 L731.0,571.0 L745.0,575.0" fill="none" stroke="#7a7a7a" stroke-width="1" stroke-dasharray="1.3,1.3"/>
<path d="M776.7,592.0 L792.0,592.0 L812.0,594.0 L822.5,594.0 L840.0,590.0 L860.0,592.0" fill="none" stroke="#7a7a7a" stroke-width="1" stroke-dasharray="1.3,1.3"/>
<path d="M505.0,381.0 L513.8,381.0 L525.0,387.0 L540.0,390.6 L551.0,398.0 L570.0,402.0 L577.5,407.5" fill="none" stroke="#7a7a7a" stroke-width="1" stroke-dasharray="1.3,1.3"/>
</g>
<path d="M158.4,218.5 L205.3,218.5" fill="none" stroke="#111" stroke-width="1.3" stroke-linejoin="round"/>
<path d="M139.5,60.5 L134.0,69.0 L131.0,77.0 L133.0,87.0 L138.0,94.0" fill="none" stroke="#111" stroke-width="1.3" stroke-linejoin="round"/>
<path d="M332.5,107.0 L335.0,118.8 L331.2,128.0 L340.6,137.5 L342.5,152.5 L338.8,167.5 L338.8,178.8 L344.4,205.0 L327.5,208.8 L332.5,227.5 L339.4,241.3" fill="none" stroke="#111" stroke-width="1.3" stroke-linejoin="round"/>
<path d="M339.4,241.3 L338.0,262.0 L327.0,274.3 L322.0,276.0" fill="none" stroke="#111" stroke-width="1.3" stroke-linejoin="round"/>
<path d="M339.4,241.3 L350.0,252.0 L360.8,270.0 L385.5,283.8 L394.5,297.2 L387.8,301.8 L390.0,313.0 L399.0,324.2 L408.0,337.8 L417.0,340.0 L427.0,350.0 L430.0,356.0 L431.0,365.0 L436.0,370.0 L439.0,380.0 L446.0,383.0 L444.0,384.0 L443.0,395.0 L443.0,400.0 L436.0,402.0" fill="none" stroke="#111" stroke-width="1.3" stroke-linejoin="round"/>
<path d="M394.5,297.2 L410.0,297.0 L413.0,281.0 L418.0,264.0 L424.0,258.0 L435.0,263.8 L450.0,269.4 L461.0,269.4 L472.5,273.0 L484.0,260.0 L499.0,260.0 L510.0,263.8" fill="none" stroke="#111" stroke-width="1.3" stroke-linejoin="round"/>
<path d="M514.5,185.4 L505.6,197.5 L498.0,212.5 L494.4,223.8 L498.0,242.5 L500.6,260.0" fill="none" stroke="#111" stroke-width="1.3" stroke-linejoin="round"/>
<path d="M510.0,263.8 L515.0,275.0 L509.4,305.0 L518.8,320.0 L533.8,320.0 L545.0,316.2 L560.0,317.0 L569.0,323.0 L579.5,326.0 L587.0,332.0 L596.0,335.0" fill="none" stroke="#111" stroke-width="1.3" stroke-linejoin="round"/>
<path d="M616.2,226.2 L601.2,239.4 L597.5,246.9 L605.0,256.2 L599.4,263.8 L584.4,273.0 L593.8,286.2 L601.2,299.4 L605.0,303.5 L614.0,309.5 L611.0,311.8 L599.0,311.0 L596.0,320.0 L597.5,335.0" fill="none" stroke="#111" stroke-width="1.3" stroke-linejoin="round"/>
<path d="M625.6,228.0 L629.4,233.8 L635.0,256.2 L642.5,271.2 L650.0,282.5 L668.8,284.4 L669.5,290.0" fill="none" stroke="#111" stroke-width="1.3" stroke-linejoin="round"/>
<path d="M597.5,335.0 L603.5,342.5 L605.0,353.0 L608.0,362.0 L608.0,377.0 L617.0,375.5 L621.5,374.0 L621.5,386.0 L623.0,393.5" fill="none" stroke="#111" stroke-width="1.3" stroke-linejoin="round"/>
<path d="M621.5,374.0 L626.0,362.0 L639.5,354.5 L635.0,347.0 L633.5,333.5 L647.0,324.5 L651.5,315.5 L671.0,303.5 L669.5,290.0" fill="none" stroke="#111" stroke-width="1.3" stroke-linejoin="round"/>
<path d="M518.8,320.0 L535.0,318.8 L542.5,337.5 L531.2,339.4 L512.5,337.5 L505.0,345.0 L497.5,354.4 L498.0,363.0 L490.0,370.0 L488.0,380.0 L488.0,390.0 L490.0,394.0" fill="none" stroke="#111" stroke-width="1.3" stroke-linejoin="round"/>
<path d="M446.0,383.0 L449.0,387.0 L458.0,387.0 L463.0,393.0 L458.0,397.0 L465.0,402.0 L473.0,406.0 L480.0,406.0 L484.0,397.0 L490.0,394.0 L500.0,394.0 L502.0,400.0 L505.0,410.0 L506.0,415.0 L512.0,412.0 L516.0,407.0 L520.0,406.0" fill="none" stroke="#111" stroke-width="1.3" stroke-linejoin="round"/>
<path d="M480.0,406.0 L481.0,420.0 L488.0,425.0 L489.4,424.4 L495.0,430.0 L502.5,439.4 L498.8,441.2 L485.6,448.8 L481.9,458.0 L466.9,452.5 L451.9,454.4 L444.4,460.0" fill="none" stroke="#111" stroke-width="1.3" stroke-linejoin="round"/>
<path d="M520.0,406.0 L523.0,409.4 L521.2,418.8 L508.1,426.2 L506.2,435.6 L508.1,446.9 L521.2,448.8 L532.5,441.2 L536.2,431.9 L530.6,424.4 L538.1,407.5 L547.5,404.7 L562.5,420.6 L547.5,430.0 L536.2,431.9" fill="none" stroke="#111" stroke-width="1.3" stroke-linejoin="round"/>
<path d="M596.0,335.0 L591.5,338.0 L585.5,347.0 L584.0,356.0 L570.5,365.0 L560.0,371.0 L550.0,371.2 L548.0,384.4 L553.8,395.6 L561.2,401.2 L572.5,393.8 L579.4,396.2 L579.4,416.9 L573.8,424.4 L562.5,420.6" fill="none" stroke="#111" stroke-width="1.3" stroke-linejoin="round"/>
<path d="M822.5,579.0 L817.4,599.4 L815.0,612.0" fill="none" stroke="#111" stroke-width="1.3" stroke-linejoin="round"/>
<path d="M822.5,579.0 L832.7,571.4 L817.4,546.0 L815.0,541.0" fill="none" stroke="#111" stroke-width="1.3" stroke-linejoin="round"/>
<path d="M832.7,571.4 L843.0,556.2 L848.0,553.6 L858.0,571.4 L873.4,563.8 L886.0,556.2 L896.3,566.4 L909.0,574.0 L919.2,574.0" fill="none" stroke="#111" stroke-width="1.3" stroke-linejoin="round"/>
<path d="M871.0,530.7 L881.0,546.0 L896.3,551.0 L904.0,548.5 L919.2,553.6 L919.2,574.0" fill="none" stroke="#111" stroke-width="1.3" stroke-linejoin="round"/>
<path d="M937.0,466.0 L950.0,470.0 L964.0,490.0 L976.0,502.0 L978.0,558.0" fill="none" stroke="#111" stroke-width="1.3" stroke-linejoin="round"/>
<path d="M976.0,498.0 L1000.0,478.0 L1024.0,458.0 L1031.0,436.0" fill="none" stroke="#111" stroke-width="1.3" stroke-linejoin="round"/>
<path d="M562.5,420.6 L572.0,422.5 L579.5,418.0 L578.0,409.0 L579.5,400.0" fill="none" stroke="#111" stroke-width="1.3" stroke-linejoin="round"/>
<path d="M573.5,424.0 L570.5,437.5 L569.0,445.0 L560.0,451.0 L558.8,456.2 L556.0,471.5" fill="none" stroke="#111" stroke-width="1.3" stroke-linejoin="round"/>
<path d="M573.5,424.0 L590.0,427.0 L596.0,431.5 L609.5,430.0 L620.0,434.5 L629.0,436.0 L633.5,433.0 L644.0,434.5 L650.0,430.0 L653.0,436.0 L654.5,443.5 L665.0,442.0 L671.0,440.5 L680.0,448.0 L683.0,454.0 L678.5,460.0" fill="none" stroke="#111" stroke-width="1.3" stroke-linejoin="round"/>
<path d="M633.5,433.0 L632.0,440.5 L629.0,446.5 L620.0,451.0 L611.0,455.5 L605.0,458.5 L605.0,464.5 L609.5,472.0 L611.0,479.5 L614.0,484.0 L623.0,478.0 L630.5,470.5 L638.0,463.0 L644.0,449.5 L653.0,445.0" fill="none" stroke="#111" stroke-width="1.3" stroke-linejoin="round"/>
<path d="M623.0,478.0 L638.0,484.0 L647.0,490.0 L656.0,485.5 L665.0,490.0 L668.0,496.0 L680.0,512.0 L695.0,507.5 L686.0,497.0 L680.0,489.5 L683.0,477.5 L680.0,470.0" fill="none" stroke="#111" stroke-width="1.3" stroke-linejoin="round"/>
<path d="M603.5,522.5 L609.5,527.0 L620.0,533.0 L632.0,528.5 L641.0,527.0 L647.0,519.5 L645.5,507.5 L651.5,500.0 L656.0,507.5 L657.5,518.0 L666.5,521.0 L668.0,509.0 L668.0,498.5" fill="none" stroke="#111" stroke-width="1.3" stroke-linejoin="round"/>
<path d="M641.0,527.0 L642.5,533.0 L654.5,540.5 L665.0,548.0 L674.0,554.0 L683.0,552.5 L695.0,551.0 L698.0,543.5 L704.0,542.0 L714.5,545.0 L728.0,540.5 L731.0,531.5 L740.0,534.5 L750.0,546.5" fill="none" stroke="#111" stroke-width="1.3" stroke-linejoin="round"/>
<path d="M674.0,554.0 L674.0,563.0 L680.0,575.0 L686.0,590.0 L680.0,596.0 L672.0,608.0" fill="none" stroke="#111" stroke-width="1.3" stroke-linejoin="round"/>
<path d="M680.0,470.0 L698.0,470.0 L698.0,477.5 L716.0,479.0 L714.5,489.5 L710.0,500.0 L720.5,509.0 L713.0,515.0 L711.5,527.0 L720.5,536.0 L728.0,540.5" fill="none" stroke="#111" stroke-width="1.3" stroke-linejoin="round"/>
<path d="M620.0,393.4 L638.8,394.4 L648.0,403.8 L667.0,405.6 L680.0,403.8 L695.0,409.4" fill="none" stroke="#111" stroke-width="1.3" stroke-linejoin="round"/>
<path d="M675.5,409.0 L675.5,418.0 L669.5,430.0 L671.0,440.5" fill="none" stroke="#111" stroke-width="1.3" stroke-linejoin="round"/>
<path d="M680.0,448.0 L692.0,457.0 L698.0,464.5 L698.0,473.5 L704.0,479.5 L716.0,481.0" fill="none" stroke="#111" stroke-width="1.3" stroke-linejoin="round"/>
<path d="M686.0,464.5 L674.0,469.0 L671.0,460.0 L678.5,460.0" fill="none" stroke="#111" stroke-width="1.3" stroke-linejoin="round"/>
<path d="M750.0,546.5 L758.0,560.0 L780.0,562.0 L788.0,576.0 L822.5,579.0" fill="none" stroke="#111" stroke-width="1.3" stroke-linejoin="round"/>
<path d="M472.0,512.0 L490.0,503.0 L505.0,501.5 L509.5,507.5 L508.0,519.5 L502.0,528.5" fill="none" stroke="#111" stroke-width="1.3" stroke-linejoin="round"/>
<path d="M509.5,518.0 L520.0,519.5 L535.0,512.0 L538.0,503.0 L533.5,497.0 L533.5,488.0 L524.5,485.0 L524.5,480.5 L538.0,476.0 L556.0,471.5" fill="none" stroke="#111" stroke-width="1.3" stroke-linejoin="round"/>
<path d="M556.0,471.5 L562.0,477.5 L575.5,476.0 L580.0,483.5 L590.5,485.0 L602.5,485.0 L610.0,483.5 L614.0,484.0" fill="none" stroke="#111" stroke-width="1.3" stroke-linejoin="round"/>
<path d="M551.5,554.0 L553.0,546.5 L565.0,533.0 L574.0,534.5 L587.5,534.5 L599.5,539.0 L598.0,524.0 L604.0,522.5 L610.0,516.5 L614.5,506.0 L617.5,492.5 L619.0,479.0 L614.0,484.0" fill="none" stroke="#111" stroke-width="1.3" stroke-linejoin="round"/>
<path d="M604.0,522.5 L609.5,527.0 L620.0,533.0" fill="none" stroke="#111" stroke-width="1.3" stroke-linejoin="round"/>
<path d="M62.0,66.0 L66.3,72.8 L70.0,81.2 L73.8,87.8 L78.4,98.1 L83.1,105.6 L88.8,118.8 L93.4,127.2 L100.0,137.5 L105.6,146.9 L109.4,156.3 L115.0,161.9 L126.3,167.5 L135.6,175.0 L145.0,182.5 L152.8,190.0 L157.5,195.6 L162.2,205.0 L161.2,212.5 L155.6,221.9 L144.4,225.6 L131.2,223.8 L138.8,231.2 L148.1,240.6 L159.4,248.1 L172.5,257.5 L181.9,261.2 L195.0,263.1 L204.4,270.6 L219.4,280.0 L226.9,289.4 L227.3,300.0 L225.2,308.4 L222.4,318.2 L221.0,325.2 L225.2,328.0 L228.0,333.6 L239.2,340.6 L247.6,340.6 L258.8,347.6 L270.0,356.0 L279.8,361.6 L286.8,367.2 L291.0,378.4 L295.2,388.2 L300.8,386.8 L312.0,381.2 L314.8,370.0 L309.2,364.4 L305.0,358.8 L300.8,350.4 L293.8,344.8 L286.8,340.6 L282.6,346.2 L277.0,344.8 L272.8,336.4 L272.8,328.0 L274.0,322.0 L267.0,311.0 L260.0,300.0 L256.9,291.2 L251.2,281.9 L249.4,270.6 L243.8,261.2 L232.5,255.6 L225.0,244.4 L217.5,233.1 L205.3,218.1 L198.0,204.0 L190.0,193.8 L180.6,182.5 L171.2,171.2 L161.9,161.9 L152.5,152.5 L145.0,146.9 L143.1,133.8 L140.3,122.5 L137.5,111.2 L139.0,95.0 L145.0,96.2 L160.0,100.0 L167.5,99.0 L178.8,105.6 L193.8,111.2 L194.7,122.5 L201.2,135.6 L205.0,145.0 L206.5,152.0 L212.5,159.5 L218.5,170.0 L224.5,179.0 L226.0,188.0 L235.0,195.5 L239.5,203.0 L250.0,210.5 L260.5,219.5 L269.5,221.7 L277.0,222.5 L277.0,242.0 L287.5,245.0 L298.0,251.0 L302.3,260.5 L313.3,263.3 L320.2,271.5 L314.6,285.3 L316.0,296.3 L327.0,301.8 L338.0,307.3 L349.5,310.8 L360.8,324.2 L376.5,340.0 L394.5,351.2 L410.2,371.5 L423.8,387.2 L435.0,400.8 L439.4,420.0 L446.9,431.2 L452.5,438.8 L448.8,448.1 L443.1,459.4 L450.6,463.1 L437.5,470.6 L441.2,481.9 L448.8,491.2 L456.2,500.6 L463.8,510.0 L475.0,513.8 L486.2,517.5 L497.5,525.0 L505.0,534.4 L520.0,541.9 L538.8,549.4 L553.8,553.1 L568.8,560.6 L580.0,569.0 L592.0,576.0 L610.0,582.0 L626.0,590.0 L644.0,596.0 L660.0,600.0 L672.0,608.0 L684.0,610.0 L700.0,618.0 L720.0,624.0 L740.0,629.0 L754.0,626.0 L770.0,620.0 L786.0,612.0 L800.0,609.0 L812.0,614.0 L833.6,627.3 L860.4,648.7 L879.2,666.2 L880.6,654.0 L879.2,643.4 L895.3,616.5 L936.9,615.2 L936.9,605.8 L927.5,597.8 L916.8,581.7 L906.0,573.6 L918.1,576.3 L918.1,558.9 L978.4,558.9 L978.4,549.5 L983.8,546.8 L1002.6,538.8 L1008.0,542.0 L1016.0,538.0 L1020.0,530.0 L1026.0,522.0 L1032.0,510.0 L1030.0,498.0 L1036.0,482.0 L1044.0,468.0 L1054.0,454.0 L1054.0,442.0 L1046.0,432.0 L1030.0,434.0 L1014.0,432.0 L1000.0,434.0 L980.0,438.0 L960.0,442.0 L946.0,448.0 L938.0,454.0 L936.0,466.0 L934.0,482.0 L928.0,496.0 L926.0,508.0 L916.0,516.0 L900.0,526.0 L890.0,530.0 L878.0,530.0 L863.0,532.0 L848.0,535.6 L831.0,539.4 L816.0,543.0 L801.0,545.0 L794.0,535.6 L782.5,530.0 L762.0,526.0 L752.5,515.0 L743.0,502.0 L736.0,488.0 L725.0,471.0 L714.0,456.0 L708.0,441.0 L710.0,432.0 L702.5,422.5 L695.0,409.0 L695.0,396.0 L697.0,368.0 L698.0,345.0 L701.0,331.0 L705.0,316.0 L712.5,301.0 L716.0,286.0 L709.0,290.0 L701.2,286.2 L684.4,282.5 L665.6,275.0 L650.6,267.5 L643.0,252.5 L639.4,237.5 L630.0,228.0 L620.6,215.0 L611.2,200.0 L607.3,193.6 L593.6,174.5 L574.5,159.5 L547.3,156.8 L530.9,163.6 L514.5,185.4 L492.7,174.5 L476.4,163.6 L468.2,144.5 L460.0,130.9 L443.6,118.6 L421.8,102.3 L412.3,92.7 L355.0,92.7 L355.0,106.9 L259.4,106.6 L238.8,100.0 L136.0,69.0 L139.5,60.5 Z" fill="none" stroke="#333" stroke-width="1.2" stroke-linejoin="round"/>
<path d="M124.5,205.8 L126.5,207.0 L127.5,213.0 L127.2,217.5 L122.0,217.5 L120.0,214.0 L123.0,211.0 Z" fill="#fdd776" stroke="#444" stroke-width="1"/>
<path d="M404.0,426.0 L407.0,425.0 L409.0,430.0 L406.0,432.0 Z" fill="#777" stroke="#444" stroke-width="1"/>
<path d="M411.0,434.0 L414.0,433.0 L415.0,436.0 L412.0,437.0 Z" fill="#777" stroke="#444" stroke-width="1"/>
<path d="M262.0,523.0 L268.0,522.0 L269.0,527.0 L263.0,528.0 Z" fill="#e0603a" stroke="#444" stroke-width="1"/>
<path d="M178.8,167.5 L184.0,170.0 L190.0,178.0 L193.8,184.4 L188.0,183.0 L181.0,176.0 Z" fill="#f4532a" stroke="#444" stroke-width="1"/>
<path d="M214.4,177.0 L222.0,176.9 L223.8,186.0 L218.0,191.9 L213.0,186.0 Z" fill="#e01f26" stroke="#444" stroke-width="1"/>
<path d="M1048.0,470.0 L1054.0,465.0 L1057.0,468.0 L1050.0,476.0 Z" fill="#fdae4c" stroke="#444" stroke-width="1"/>
<line x1="132.5" y1="59" x2="132.5" y2="678" stroke="#6a6a6a" stroke-width="1" stroke-dasharray="1,2"/>
<line x1="296.1" y1="59" x2="296.1" y2="678" stroke="#6a6a6a" stroke-width="1" stroke-dasharray="1,2"/>
<line x1="459.8" y1="59" x2="459.8" y2="678" stroke="#6a6a6a" stroke-width="1" stroke-dasharray="1,2"/>
<line x1="623.4" y1="59" x2="623.4" y2="678" stroke="#6a6a6a" stroke-width="1" stroke-dasharray="1,2"/>
<line x1="787.0" y1="59" x2="787.0" y2="678" stroke="#6a6a6a" stroke-width="1" stroke-dasharray="1,2"/>
<line x1="950.6" y1="59" x2="950.6" y2="678" stroke="#6a6a6a" stroke-width="1" stroke-dasharray="1,2"/>
<line x1="59" y1="152.0" x2="1070" y2="152.0" stroke="#6a6a6a" stroke-width="1" stroke-dasharray="1,2"/>
<line x1="59" y1="318.8" x2="1070" y2="318.8" stroke="#6a6a6a" stroke-width="1" stroke-dasharray="1,2"/>
<line x1="59" y1="485.7" x2="1070" y2="485.7" stroke="#6a6a6a" stroke-width="1" stroke-dasharray="1,2"/>
<line x1="59" y1="652.5" x2="1070" y2="652.5" stroke="#6a6a6a" stroke-width="1" stroke-dasharray="1,2"/>
<path d="M350,246.5 L359,255.5 L350,264.5 L341,255.5 Z" fill="none" stroke="#1f1a8c" stroke-width="2"/>
<path d="M350.5,247.5 L372,247.5 L361.5,264 Z" fill="none" stroke="#1f1a8c" stroke-width="2"/>
<path d="M614.5,528.5 L623.5,544.5 L605.5,544.5 Z" fill="none" stroke="#231a8a" stroke-width="2.4"/>
<path d="M831,75.5 C816,88 802,99 802.5,112 C803,128 820,137.5 843.5,127.5 L843,124.5 C826,131 808.5,126 808,112 C807.5,101 818,92 831,81.5 Z" fill="#3d7fc1"/>
<path d="M831,85 C822,93 810,102 810.5,112 C811,123 825,128.5 845,121.5 L845,118.5 C828,124 814.5,120 814.5,112 C814.5,104 823,97 831,90.5 Z" fill="#3578bb"/>
<path d="M809,121 C815,130 826,133 843.5,127.5 L843,124.5 C830,129 818,128 811,120 Z" fill="#27589a"/>
<path d="M816,116 C816,108 822,102 830,99 C834,97.5 840,98 842,101 L840,103 C839,106 838,109 841,111 C844,112 846,113.5 846.5,115 C842,114.5 838,115.5 834,117 C828,119 822,120 817,121 Z" fill="#c9995b"/>
<path d="M814,124 C819,121.5 823,123.5 828,122 C833,120.5 838,122.5 844,120.5" fill="none" stroke="#2f6aa8" stroke-width="1.4"/>
<text x="855" y="112.5" font-family="Liberation Serif, serif" font-size="35" font-weight="bold" fill="#6e6e6e" textLength="176" lengthAdjust="spacingAndGlyphs">CONAGUA</text>
<text x="856" y="127.5" font-family="Liberation Sans, sans-serif" font-size="8.6" font-weight="bold" fill="#7a7a7a" textLength="139" lengthAdjust="spacing">COMISIÓN NACIONAL DEL AGUA</text>
</g>
<rect x="59" y="59" width="1011" height="619" fill="none" stroke="#3a3a3a" stroke-width="1.3"/>
<line x1="132.5" y1="678" x2="132.5" y2="685" stroke="#333" stroke-width="1.2"/>
<line x1="296.1" y1="678" x2="296.1" y2="685" stroke="#333" stroke-width="1.2"/>
<line x1="459.8" y1="678" x2="459.8" y2="685" stroke="#333" stroke-width="1.2"/>
<line x1="623.4" y1="678" x2="623.4" y2="685" stroke="#333" stroke-width="1.2"/>
<line x1="787.0" y1="678" x2="787.0" y2="685" stroke="#333" stroke-width="1.2"/>
<line x1="950.6" y1="678" x2="950.6" y2="685" stroke="#333" stroke-width="1.2"/>
<line x1="51" y1="152.0" x2="59" y2="152.0" stroke="#333" stroke-width="1.2"/>
<line x1="51" y1="318.8" x2="59" y2="318.8" stroke="#333" stroke-width="1.2"/>
<line x1="51" y1="485.7" x2="59" y2="485.7" stroke="#333" stroke-width="1.2"/>
<line x1="51" y1="652.5" x2="59" y2="652.5" stroke="#333" stroke-width="1.2"/>
<text x="132.5" y="704" font-family="Liberation Sans, sans-serif" font-size="22" text-anchor="middle">-115</text>
<text x="296.1" y="704" font-family="Liberation Sans, sans-serif" font-size="22" text-anchor="middle">-110</text>
<text x="459.8" y="704" font-family="Liberation Sans, sans-serif" font-size="22" text-anchor="middle">-105</text>
<text x="623.4" y="704" font-family="Liberation Sans, sans-serif" font-size="22" text-anchor="middle">-100</text>
<text x="787.0" y="704" font-family="Liberation Sans, sans-serif" font-size="22" text-anchor="middle">-95</text>
<text x="950.6" y="704" font-family="Liberation Sans, sans-serif" font-size="22" text-anchor="middle">-90</text>
<text x="45" y="159.5" font-family="Liberation Sans, sans-serif" font-size="22" text-anchor="end">30</text>
<text x="45" y="326.3" font-family="Liberation Sans, sans-serif" font-size="22" text-anchor="end">25</text>
<text x="45" y="493.2" font-family="Liberation Sans, sans-serif" font-size="22" text-anchor="end">20</text>
<text x="45" y="660.0" font-family="Liberation Sans, sans-serif" font-size="22" text-anchor="end">15</text>
<text x="518.5" y="732" font-family="Liberation Sans, sans-serif" font-size="21.6" font-weight="bold" textLength="92" lengthAdjust="spacingAndGlyphs">Longitud</text>
<text transform="translate(13,404) rotate(-90)" font-family="Liberation Sans, sans-serif" font-size="21.6" font-weight="bold" textLength="71" lengthAdjust="spacingAndGlyphs">Latitud</text>
<text x="401" y="25.5" font-family="Liberation Sans, sans-serif" font-size="21.6" font-weight="bold" textLength="327" lengthAdjust="spacingAndGlyphs">Temperatura máxima diaria (&#8202;°&#8202;C)</text>
<text x="419" y="50.3" font-family="Liberation Sans, sans-serif" font-size="21.6" font-weight="bold" textLength="292" lengthAdjust="spacingAndGlyphs">del 20 de noviembre de 2020</text>
<text x="70" y="586" font-family="Liberation Sans, sans-serif" font-size="14.4" textLength="302" lengthAdjust="spacingAndGlyphs">Temperaturas máximas en grados Celsius (&#8202;°&#8202;C)</text>
<text x="126" y="609" font-family="Liberation Sans, sans-serif" font-size="14.4" textLength="199" lengthAdjust="spacingAndGlyphs">1.-Vicente Guerrero, Gro.: 44.0</text>
<text x="126" y="626" font-family="Liberation Sans, sans-serif" font-size="14.4" textLength="209.5" lengthAdjust="spacingAndGlyphs">2.-Huites hidrométrica, Sin.: 43.5</text>
<text x="126" y="643" font-family="Liberation Sans, sans-serif" font-size="14.4" textLength="176" lengthAdjust="spacingAndGlyphs">3.-San Francisco, Sin.: 43.1</text>
<path d="M113.3,600 L117.5,607.5 L109,607.5 Z" fill="none" stroke="#222" stroke-width="1"/>
<path d="M113.3,616 L117.5,620.5 L113.3,625 L109,620.5 Z" fill="none" stroke="#222" stroke-width="1"/>
<path d="M109,634 L117.5,634 L113.3,641.5 Z" fill="none" stroke="#222" stroke-width="1"/>
<text x="60" y="748" font-family="Liberation Sans, sans-serif" font-size="12.35" font-style="italic" textLength="521" lengthAdjust="spacingAndGlyphs">Fecha de elaboración 2020-11-21 13:01:17 Subgerencia de Climatología y Servicios Climáticos</text>
<text x="916" y="747" font-family="Liberation Sans, sans-serif" font-size="18.3" font-style="italic" textLength="102" lengthAdjust="spacingAndGlyphs">Estaciones:</text>
<text x="1027" y="747" font-family="Liberation Sans, sans-serif" font-size="18.3" font-style="italic" textLength="43" lengthAdjust="spacingAndGlyphs">1193</text>
<rect x="73.00" y="756" width="35.39" height="18" fill="#9c34d0"/>
<rect x="108.09" y="756" width="35.39" height="18" fill="#7b2a96"/>
<rect x="143.18" y="756" width="35.39" height="18" fill="#45047e"/>
<rect x="178.27" y="756" width="35.39" height="18" fill="#5b2d98"/>
<rect x="213.36" y="756" width="35.39" height="18" fill="#6d52aa"/>
<rect x="248.45" y="756" width="35.39" height="18" fill="#7f7fc1"/>
<rect x="283.54" y="756" width="35.39" height="18" fill="#a19dcb"/>
<rect x="318.62" y="756" width="35.39" height="18" fill="#c0c0e2"/>
<rect x="353.71" y="756" width="35.39" height="18" fill="#7fd3be"/>
<rect x="388.80" y="756" width="35.39" height="18" fill="#3fb7c9"/>
<rect x="423.89" y="756" width="35.39" height="18" fill="#218fc6"/>
<rect x="458.98" y="756" width="35.39" height="18" fill="#2a5aa6"/>
<rect x="494.07" y="756" width="35.39" height="18" fill="#1e7e3c"/>
<rect x="529.16" y="756" width="35.39" height="18" fill="#3ea65a"/>
<rect x="564.25" y="756" width="35.39" height="18" fill="#6dbf73"/>
<rect x="599.34" y="756" width="35.39" height="18" fill="#a9dc8d"/>
<rect x="634.43" y="756" width="35.39" height="18" fill="#d4eba1"/>
<rect x="669.52" y="756" width="35.39" height="18" fill="#f2f8bb"/>
<rect x="704.61" y="756" width="35.39" height="18" fill="#fdd776"/>
<rect x="739.70" y="756" width="35.39" height="18" fill="#fdae4c"/>
<rect x="774.79" y="756" width="35.39" height="18" fill="#f98a3c"/>
<rect x="809.88" y="756" width="35.39" height="18" fill="#f4532a"/>
<rect x="844.96" y="756" width="35.39" height="18" fill="#e01f26"/>
<rect x="880.05" y="756" width="35.39" height="18" fill="#bf052b"/>
<rect x="915.14" y="756" width="35.39" height="18" fill="#80001f"/>
<rect x="950.23" y="756" width="35.39" height="18" fill="#a8003f"/>
<rect x="985.32" y="756" width="35.39" height="18" fill="#8b1e66"/>
<rect x="1020.41" y="756" width="35.39" height="18" fill="#cf2e9b"/>
<line x1="73.00" y1="756" x2="73.00" y2="781" stroke="#222" stroke-width="1"/>
<line x1="108.09" y1="756" x2="108.09" y2="781" stroke="#222" stroke-width="1"/>
<line x1="143.18" y1="756" x2="143.18" y2="781" stroke="#222" stroke-width="1"/>
<line x1="178.27" y1="756" x2="178.27" y2="781" stroke="#222" stroke-width="1"/>
<line x1="213.36" y1="756" x2="213.36" y2="781" stroke="#222" stroke-width="1"/>
<line x1="248.45" y1="756" x2="248.45" y2="781" stroke="#222" stroke-width="1"/>
<line x1="283.54" y1="756" x2="283.54" y2="781" stroke="#222" stroke-width="1"/>
<line x1="318.62" y1="756" x2="318.62" y2="781" stroke="#222" stroke-width="1"/>
<line x1="353.71" y1="756" x2="353.71" y2="781" stroke="#222" stroke-width="1"/>
<line x1="388.80" y1="756" x2="388.80" y2="781" stroke="#222" stroke-width="1"/>
<line x1="423.89" y1="756" x2="423.89" y2="781" stroke="#222" stroke-width="1"/>
<line x1="458.98" y1="756" x2="458.98" y2="781" stroke="#222" stroke-width="1"/>
<line x1="494.07" y1="756" x2="494.07" y2="781" stroke="#222" stroke-width="1"/>
<line x1="529.16" y1="756" x2="529.16" y2="781" stroke="#222" stroke-width="1"/>
<line x1="564.25" y1="756" x2="564.25" y2="781" stroke="#222" stroke-width="1"/>
<line x1="599.34" y1="756" x2="599.34" y2="781" stroke="#222" stroke-width="1"/>
<line x1="634.43" y1="756" x2="634.43" y2="781" stroke="#222" stroke-width="1"/>
<line x1="669.52" y1="756" x2="669.52" y2="781" stroke="#222" stroke-width="1"/>
<line x1="704.61" y1="756" x2="704.61" y2="781" stroke="#222" stroke-width="1"/>
<line x1="739.70" y1="756" x2="739.70" y2="781" stroke="#222" stroke-width="1"/>
<line x1="774.79" y1="756" x2="774.79" y2="781" stroke="#222" stroke-width="1"/>
<line x1="809.88" y1="756" x2="809.88" y2="781" stroke="#222" stroke-width="1"/>
<line x1="844.96" y1="756" x2="844.96" y2="781" stroke="#222" stroke-width="1"/>
<line x1="880.05" y1="756" x2="880.05" y2="781" stroke="#222" stroke-width="1"/>
<line x1="915.14" y1="756" x2="915.14" y2="781" stroke="#222" stroke-width="1"/>
<line x1="950.23" y1="756" x2="950.23" y2="781" stroke="#222" stroke-width="1"/>
<line x1="985.32" y1="756" x2="985.32" y2="781" stroke="#222" stroke-width="1"/>
<line x1="1020.41" y1="756" x2="1020.41" y2="781" stroke="#222" stroke-width="1"/>
<line x1="1055.50" y1="756" x2="1055.50" y2="781" stroke="#222" stroke-width="1"/>
<rect x="73.0" y="756" width="982.5" height="18" fill="none" stroke="#222" stroke-width="1"/>
<text x="73.0" y="800" font-family="Liberation Sans, sans-serif" font-size="22" text-anchor="middle">-20</text>
<text x="143.2" y="800" font-family="Liberation Sans, sans-serif" font-size="22" text-anchor="middle">-15</text>
<text x="213.4" y="800" font-family="Liberation Sans, sans-serif" font-size="22" text-anchor="middle">-10</text>
<text x="283.5" y="800" font-family="Liberation Sans, sans-serif" font-size="22" text-anchor="middle">-5</text>
<text x="353.7" y="800" font-family="Liberation Sans, sans-serif" font-size="22" text-anchor="middle">0</text>
<text x="423.9" y="800" font-family="Liberation Sans, sans-serif" font-size="22" text-anchor="middle">5</text>
<text x="494.1" y="800" font-family="Liberation Sans, sans-serif" font-size="22" text-anchor="middle">10</text>
<text x="564.2" y="800" font-family="Liberation Sans, sans-serif" font-size="22" text-anchor="middle">15</text>
<text x="634.4" y="800" font-family="Liberation Sans, sans-serif" font-size="22" text-anchor="middle">20</text>
<text x="704.6" y="800" font-family="Liberation Sans, sans-serif" font-size="22" text-anchor="middle">25</text>
<text x="774.8" y="800" font-family="Liberation Sans, sans-serif" font-size="22" text-anchor="middle">30</text>
<text x="845.0" y="800" font-family="Liberation Sans, sans-serif" font-size="22" text-anchor="middle">35</text>
<text x="915.1" y="800" font-family="Liberation Sans, sans-serif" font-size="22" text-anchor="middle">40</text>
<text x="985.3" y="800" font-family="Liberation Sans, sans-serif" font-size="22" text-anchor="middle">45</text>
<text x="1055.5" y="800" font-family="Liberation Sans, sans-serif" font-size="22" text-anchor="middle">50</text>
</svg>
</body></html>
